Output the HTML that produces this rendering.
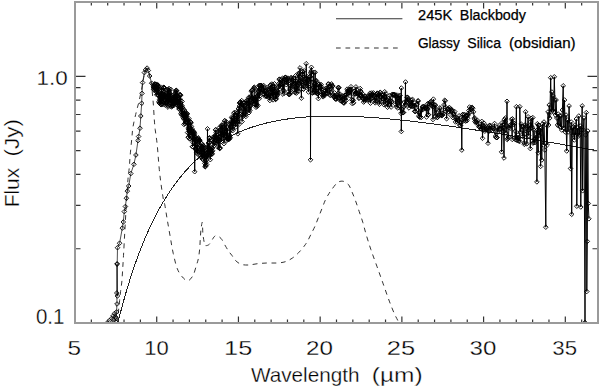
<!DOCTYPE html>
<html><head><meta charset="utf-8"><style>
html,body{margin:0;padding:0;background:#fff;}
svg{display:block;}
</style></head><body>
<svg width="600" height="388" viewBox="0 0 600 388">
<rect width="600" height="388" fill="#fff"/>
<g fill="none" stroke="#000" stroke-linejoin="miter">
<path d="M117.50,323.00 C117.67,321.00 118.15,314.75 118.50,311.00 C118.85,307.25 119.25,303.78 119.60,300.50 C119.95,297.22 120.23,294.38 120.60,291.30 C120.97,288.22 121.48,285.22 121.80,282.00 C122.12,278.78 122.28,275.30 122.50,272.00 C122.72,268.70 122.90,265.55 123.10,262.20 C123.30,258.85 123.43,256.72 123.70,251.90 C123.97,247.08 124.35,239.67 124.70,233.30 C125.05,226.93 125.42,220.08 125.80,213.70 C126.18,207.32 126.62,201.00 127.00,195.00 C127.38,189.00 127.72,182.30 128.10,177.70 C128.48,173.10 128.95,171.18 129.30,167.40 C129.65,163.62 129.78,159.80 130.20,155.00 C130.62,150.20 131.33,143.30 131.80,138.60 C132.27,133.90 132.27,131.18 133.00,126.80 C133.73,122.42 135.20,116.52 136.20,112.30 C137.20,108.08 138.07,105.55 139.00,101.50 C139.93,97.45 140.90,92.52 141.80,88.00 C142.70,83.48 143.53,77.77 144.40,74.40 C145.27,71.03 146.25,68.10 147.00,67.80 C147.75,67.50 148.30,70.57 148.90,72.60 C149.50,74.63 150.07,76.98 150.60,80.00 C151.13,83.02 151.63,86.52 152.10,90.70 C152.57,94.88 153.03,100.28 153.40,105.10 C153.77,109.92 154.00,115.53 154.30,119.60 C154.60,123.67 154.72,125.32 155.20,129.50 C155.68,133.68 156.52,138.03 157.20,144.70 C157.88,151.37 158.62,162.62 159.30,169.50 C159.98,176.38 160.62,181.02 161.30,186.00 C161.98,190.98 162.82,196.27 163.40,199.40 C163.98,202.53 164.17,201.47 164.80,204.80 C165.43,208.13 166.30,214.10 167.20,219.40 C168.10,224.70 169.18,230.88 170.20,236.60 C171.22,242.32 171.97,248.00 173.30,253.70 C174.63,259.40 175.95,266.32 178.20,270.80 C180.45,275.28 184.35,279.78 186.80,280.60 C189.25,281.42 191.28,278.30 192.90,275.70 C194.52,273.10 195.58,267.88 196.50,265.00 C197.42,262.12 197.87,261.12 198.40,258.40 C198.93,255.68 199.38,252.03 199.70,248.70 C200.02,245.37 200.08,241.62 200.30,238.40 C200.52,235.18 200.67,232.08 201.00,229.40 C201.33,226.72 201.98,221.55 202.30,222.30 C202.62,223.05 202.58,230.57 202.90,233.90 C203.22,237.23 203.82,240.37 204.20,242.30 C204.58,244.23 204.33,245.18 205.20,245.50 C206.07,245.82 207.95,245.60 209.40,244.20 C210.85,242.80 212.72,238.50 213.90,237.10 C215.08,235.70 215.32,235.58 216.50,235.80 C217.68,236.02 219.50,236.68 221.00,238.40 C222.50,240.12 224.22,243.95 225.50,246.10 C226.78,248.25 227.62,249.73 228.70,251.30 C229.78,252.87 230.95,254.05 232.00,255.50 C233.05,256.95 233.53,258.55 235.00,260.00 C236.47,261.45 238.58,263.37 240.80,264.20 C243.02,265.03 245.52,265.08 248.30,265.00 C251.08,264.92 254.43,264.03 257.50,263.70 C260.57,263.37 263.50,263.12 266.70,263.00 C269.90,262.88 273.65,263.20 276.70,263.00 C279.75,262.80 282.42,262.60 285.00,261.80 C287.58,261.00 289.95,259.70 292.20,258.20 C294.45,256.70 296.53,254.77 298.50,252.80 C300.47,250.83 302.48,248.37 304.00,246.40 C305.52,244.43 306.40,243.10 307.60,241.00 C308.80,238.90 310.00,236.20 311.20,233.80 C312.40,231.40 313.60,229.30 314.80,226.60 C316.00,223.90 317.20,220.62 318.40,217.60 C319.60,214.58 320.80,211.52 322.00,208.50 C323.20,205.48 324.43,202.00 325.60,199.50 C326.77,197.00 327.92,195.25 329.00,193.50 C330.08,191.75 330.68,190.82 332.10,189.00 C333.52,187.18 335.70,183.90 337.50,182.60 C339.30,181.30 341.10,180.90 342.90,181.20 C344.70,181.50 346.80,182.65 348.30,184.40 C349.80,186.15 350.70,188.98 351.90,191.70 C353.10,194.42 354.28,197.40 355.50,200.70 C356.72,204.00 357.98,207.90 359.20,211.50 C360.42,215.10 361.67,218.55 362.80,222.30 C363.93,226.05 364.65,229.45 366.00,234.00 C367.35,238.55 369.05,244.13 370.90,249.60 C372.75,255.07 375.05,261.08 377.10,266.80 C379.15,272.52 381.17,278.18 383.20,283.90 C385.23,289.62 387.47,296.20 389.30,301.10 C391.13,306.00 392.77,310.03 394.20,313.30 C395.63,316.57 397.13,319.08 397.90,320.70 C398.67,322.32 398.65,322.62 398.80,323.00" stroke="#333" stroke-width="1.0" stroke-dasharray="4.8 4.6"/>
<path d="M117.91,322.67 L118.17,321.61 L118.43,320.56 L118.69,319.52 L118.95,318.48 L119.22,317.45 L119.48,316.42 L119.74,315.40 L120.00,314.38 L120.26,313.37 L120.52,312.37 L120.79,311.37 L121.05,310.38 L121.31,309.39 L121.57,308.41 L121.83,307.43 L122.09,306.46 L122.36,305.49 L122.62,304.53 L122.88,303.57 L123.14,302.62 L123.40,301.67 L123.66,300.73 L123.92,299.80 L124.19,298.87 L124.45,297.94 L124.71,297.02 L124.97,296.10 L125.23,295.19 L125.49,294.28 L125.76,293.38 L126.02,292.49 L126.28,291.59 L126.54,290.71 L126.80,289.82 L127.06,288.94 L127.33,288.07 L127.59,287.20 L127.85,286.34 L128.11,285.48 L128.37,284.62 L128.63,283.77 L128.90,282.93 L129.16,282.08 L129.42,281.25 L129.68,280.41 L129.94,279.59 L130.20,278.76 L130.47,277.94 L130.73,277.13 L130.99,276.31 L131.25,275.51 L131.51,274.70 L131.77,273.90 L132.04,273.11 L132.30,272.32 L132.56,271.53 L132.82,270.75 L133.08,269.97 L133.34,269.20 L133.61,268.43 L133.87,267.66 L134.13,266.90 L134.39,266.14 L134.65,265.38 L134.91,264.63 L135.18,263.89 L135.44,263.14 L135.70,262.40 L135.96,261.67 L136.22,260.94 L136.48,260.21 L136.74,259.48 L137.01,258.76 L137.27,258.04 L137.53,257.33 L137.79,256.62 L138.05,255.91 L138.31,255.21 L138.58,254.51 L138.84,253.82 L139.10,253.13 L139.36,252.44 L139.62,251.75 L139.88,251.07 L140.15,250.39 L140.41,249.72 L140.67,249.05 L140.93,248.38 L141.19,247.71 L141.45,247.05 L141.72,246.39 L141.98,245.74 L142.24,245.09 L142.50,244.44 L142.76,243.79 L143.02,243.15 L143.29,242.51 L143.55,241.88 L143.81,241.24 L144.07,240.62 L144.33,239.99 L144.59,239.37 L144.86,238.75 L145.12,238.13 L145.38,237.52 L145.64,236.91 L145.90,236.30 L146.16,235.69 L146.43,235.09 L146.69,234.49 L146.95,233.90 L147.21,233.30 L147.47,232.71 L147.73,232.13 L147.99,231.54 L148.26,230.96 L148.52,230.38 L148.78,229.81 L149.04,229.23 L149.30,228.66 L149.56,228.10 L149.83,227.53 L150.09,226.97 L150.35,226.41 L150.61,225.86 L150.87,225.30 L151.13,224.75 L151.40,224.20 L151.66,223.66 L151.92,223.12 L152.18,222.58 L152.44,222.04 L152.70,221.50 L152.97,220.97 L153.23,220.44 L153.49,219.91 L153.75,219.39 L154.01,218.87 L154.27,218.35 L154.54,217.83 L154.80,217.32 L155.06,216.80 L155.32,216.29 L155.58,215.79 L155.84,215.28 L156.11,214.78 L156.37,214.28 L156.63,213.78 L156.89,213.29 L157.15,212.79 L157.41,212.30 L157.68,211.82 L157.94,211.33 L158.20,210.85 L158.46,210.36 L158.72,209.89 L158.98,209.41 L159.25,208.94 L159.51,208.46 L159.77,207.99 L160.03,207.53 L160.29,207.06 L160.55,206.60 L160.81,206.14 L161.08,205.68 L161.34,205.22 L161.60,204.77 L161.86,204.32 L162.12,203.87 L162.38,203.42 L162.65,202.97 L162.91,202.53 L163.17,202.09 L163.43,201.65 L163.69,201.21 L163.95,200.77 L164.22,200.34 L164.48,199.91 L164.74,199.48 L165.00,199.05 L165.26,198.63 L165.52,198.21 L165.79,197.79 L166.05,197.37 L166.31,196.95 L166.57,196.53 L166.83,196.12 L167.09,195.71 L167.36,195.30 L167.62,194.89 L167.88,194.49 L168.14,194.08 L168.40,193.68 L168.66,193.28 L168.93,192.88 L169.19,192.49 L169.45,192.09 L169.71,191.70 L169.97,191.31 L170.23,190.92 L170.50,190.53 L170.76,190.15 L171.02,189.77 L171.28,189.39 L171.54,189.01 L171.80,188.63 L172.07,188.25 L172.33,187.88 L172.59,187.50 L172.85,187.13 L173.11,186.76 L173.37,186.40 L173.63,186.03 L173.90,185.67 L174.16,185.30 L174.42,184.94 L174.68,184.58 L174.94,184.23 L175.20,183.87 L175.47,183.52 L175.73,183.17 L175.99,182.81 L176.25,182.47 L176.51,182.12 L176.77,181.77 L177.04,181.43 L177.30,181.09 L177.56,180.74 L177.82,180.40 L178.08,180.07 L178.34,179.73 L178.61,179.40 L178.87,179.06 L179.13,178.73 L179.39,178.40 L179.65,178.07 L179.91,177.74 L180.18,177.42 L180.44,177.09 L180.70,176.77 L180.96,176.45 L181.22,176.13 L181.48,175.81 L181.75,175.50 L182.01,175.18 L182.27,174.87 L182.53,174.56 L182.79,174.24 L183.05,173.94 L183.32,173.63 L183.58,173.32 L183.84,173.02 L184.10,172.71 L184.36,172.41 L184.62,172.11 L184.88,171.81 L185.15,171.51 L185.41,171.21 L185.67,170.92 L185.93,170.62 L186.19,170.33 L186.45,170.04 L186.72,169.75 L186.98,169.46 L187.24,169.17 L187.50,168.89 L187.76,168.60 L188.02,168.32 L188.29,168.04 L188.55,167.76 L188.81,167.48 L189.07,167.20 L189.33,166.92 L189.59,166.65 L189.86,166.37 L190.12,166.10 L190.38,165.83 L190.64,165.56 L190.90,165.29 L191.16,165.02 L191.43,164.75 L191.69,164.49 L191.95,164.22 L192.21,163.96 L192.47,163.70 L192.73,163.44 L193.00,163.18 L193.26,162.92 L193.52,162.66 L193.78,162.40 L194.04,162.15 L194.30,161.90 L194.57,161.64 L194.83,161.39 L195.09,161.14 L195.35,160.89 L195.61,160.64 L195.87,160.40 L196.14,160.15 L196.40,159.91 L196.66,159.66 L196.92,159.42 L197.18,159.18 L197.44,158.94 L197.70,158.70 L197.97,158.46 L198.23,158.23 L198.49,157.99 L198.75,157.76 L199.01,157.52 L199.27,157.29 L199.54,157.06 L199.80,156.83 L200.06,156.60 L200.32,156.37 L200.58,156.15 L200.84,155.92 L201.11,155.69 L201.37,155.47 L201.63,155.25 L201.89,155.03 L202.15,154.80 L202.41,154.58 L202.68,154.37 L202.94,154.15 L203.20,153.93 L203.46,153.72 L203.72,153.50 L203.98,153.29 L204.25,153.07 L204.51,152.86 L204.77,152.65 L205.03,152.44 L205.29,152.23 L205.55,152.02 L205.82,151.82 L206.08,151.61 L206.34,151.41 L206.60,151.20 L206.86,151.00 L207.12,150.80 L207.39,150.60 L207.65,150.40 L207.91,150.20 L208.17,150.00 L208.43,149.80 L208.69,149.60 L208.95,149.41 L209.22,149.21 L209.48,149.02 L209.74,148.83 L210.00,148.63 L210.26,148.44 L210.52,148.25 L210.79,148.06 L211.05,147.87 L211.31,147.69 L211.57,147.50 L211.83,147.31 L212.09,147.13 L212.36,146.94 L212.62,146.76 L212.88,146.58 L213.14,146.40 L213.40,146.21 L213.66,146.03 L213.93,145.86 L214.19,145.68 L214.45,145.50 L214.71,145.32 L214.97,145.15 L215.23,144.97 L215.50,144.80 L215.76,144.62 L216.02,144.45 L216.28,144.28 L216.54,144.11 L216.80,143.94 L217.07,143.77 L217.33,143.60 L217.59,143.43 L217.85,143.27 L218.11,143.10 L218.37,142.94 L218.64,142.77 L218.90,142.61 L219.16,142.44 L219.42,142.28 L219.68,142.12 L219.94,141.96 L220.21,141.80 L220.47,141.64 L220.73,141.48 L220.99,141.32 L221.25,141.17 L221.51,141.01 L221.77,140.86 L222.04,140.70 L222.30,140.55 L222.56,140.39 L222.82,140.24 L223.08,140.09 L223.34,139.94 L223.61,139.79 L223.87,139.64 L224.13,139.49 L224.39,139.34 L224.65,139.19 L224.91,139.05 L225.18,138.90 L225.44,138.75 L225.70,138.61 L225.96,138.47 L226.22,138.32 L226.48,138.18 L226.75,138.04 L227.01,137.90 L227.27,137.76 L227.53,137.62 L227.79,137.48 L228.05,137.34 L228.32,137.20 L228.58,137.06 L228.84,136.93 L229.10,136.79 L229.36,136.66 L229.62,136.52 L229.89,136.39 L230.15,136.25 L230.41,136.12 L230.67,135.99 L230.93,135.86 L231.19,135.73 L231.46,135.60 L231.72,135.47 L231.98,135.34 L232.24,135.21 L232.50,135.08 L232.76,134.96 L233.03,134.83 L233.29,134.70 L233.55,134.58 L233.81,134.45 L234.07,134.33 L234.33,134.21 L234.59,134.08 L234.86,133.96 L235.12,133.84 L235.38,133.72 L235.64,133.60 L235.90,133.48 L236.16,133.36 L236.43,133.24 L236.69,133.12 L236.95,133.01 L237.21,132.89 L237.47,132.77 L237.73,132.66 L238.00,132.54 L238.26,132.43 L238.52,132.32 L238.78,132.20 L239.04,132.09 L239.30,131.98 L239.57,131.87 L239.83,131.75 L240.09,131.64 L240.35,131.53 L240.61,131.42 L240.87,131.32 L241.14,131.21 L241.40,131.10 L241.66,130.99 L241.92,130.89 L242.18,130.78 L242.44,130.67 L242.71,130.57 L242.97,130.47 L243.23,130.36 L243.49,130.26 L243.75,130.16 L244.01,130.05 L244.28,129.95 L244.54,129.85 L244.80,129.75 L245.06,129.65 L245.32,129.55 L245.58,129.45 L245.84,129.35 L246.11,129.25 L246.37,129.16 L246.63,129.06 L246.89,128.96 L247.15,128.86 L247.41,128.77 L247.68,128.67 L247.94,128.58 L248.20,128.49 L248.46,128.39 L248.72,128.30 L248.98,128.21 L249.25,128.11 L249.51,128.02 L249.77,127.93 L250.03,127.84 L250.29,127.75 L250.55,127.66 L250.82,127.57 L251.08,127.48 L251.34,127.39 L251.60,127.30 L251.86,127.22 L252.12,127.13 L252.39,127.04 L252.65,126.96 L252.91,126.87 L253.17,126.79 L253.43,126.70 L253.69,126.62 L253.96,126.53 L254.22,126.45 L254.48,126.37 L254.74,126.29 L255.00,126.20 L255.26,126.12 L255.53,126.04 L255.79,125.96 L256.05,125.88 L256.31,125.80 L256.57,125.72 L256.83,125.64 L257.10,125.56 L257.36,125.49 L257.62,125.41 L257.88,125.33 L258.14,125.25 L258.40,125.18 L258.66,125.10 L258.93,125.03 L259.19,124.95 L259.45,124.88 L259.71,124.80 L259.97,124.73 L260.23,124.66 L260.50,124.58 L260.76,124.51 L261.02,124.44 L261.28,124.37 L261.54,124.29 L261.80,124.22 L262.07,124.15 L262.33,124.08 L262.59,124.01 L262.85,123.94 L263.11,123.88 L263.37,123.81 L263.64,123.74 L263.90,123.67 L264.16,123.60 L264.42,123.54 L264.68,123.47 L264.94,123.40 L265.21,123.34 L265.47,123.27 L265.73,123.21 L265.99,123.14 L266.25,123.08 L266.51,123.01 L266.78,122.95 L267.04,122.89 L267.30,122.83 L267.56,122.76 L267.82,122.70 L268.08,122.64 L268.35,122.58 L268.61,122.52 L268.87,122.46 L269.13,122.40 L269.39,122.34 L269.65,122.28 L269.91,122.22 L270.18,122.16 L270.44,122.10 L270.70,122.04 L270.96,121.99 L271.22,121.93 L271.48,121.87 L271.75,121.82 L272.01,121.76 L272.27,121.70 L272.53,121.65 L272.79,121.59 L273.05,121.54 L273.32,121.48 L273.58,121.43 L273.84,121.38 L274.10,121.32 L274.36,121.27 L274.62,121.22 L274.89,121.16 L275.15,121.11 L275.41,121.06 L275.67,121.01 L275.93,120.96 L276.19,120.91 L276.46,120.86 L276.72,120.81 L276.98,120.76 L277.24,120.71 L277.50,120.66 L277.76,120.61 L278.03,120.56 L278.29,120.51 L278.55,120.46 L278.81,120.42 L279.07,120.37 L279.33,120.32 L279.60,120.28 L279.86,120.23 L280.12,120.18 L280.38,120.14 L280.64,120.09 L280.90,120.05 L281.17,120.00 L281.43,119.96 L281.69,119.91 L281.95,119.87 L282.21,119.83 L282.47,119.78 L282.73,119.74 L283.00,119.70 L283.26,119.66 L283.52,119.62 L283.78,119.57 L284.04,119.53 L284.30,119.49 L284.57,119.45 L284.83,119.41 L285.09,119.37 L285.35,119.33 L285.61,119.29 L285.87,119.25 L286.14,119.21 L286.40,119.17 L286.66,119.13 L286.92,119.10 L287.18,119.06 L287.44,119.02 L287.71,118.98 L287.97,118.95 L288.23,118.91 L288.49,118.87 L288.75,118.84 L289.01,118.80 L289.28,118.77 L289.54,118.73 L289.80,118.70 L290.06,118.66 L290.32,118.63 L290.58,118.59 L290.85,118.56 L291.11,118.52 L291.37,118.49 L291.63,118.46 L291.89,118.43 L292.15,118.39 L292.42,118.36 L292.68,118.33 L292.94,118.30 L293.20,118.26 L293.46,118.23 L293.72,118.20 L293.98,118.17 L294.25,118.14 L294.51,118.11 L294.77,118.08 L295.03,118.05 L295.29,118.02 L295.55,117.99 L295.82,117.96 L296.08,117.94 L296.34,117.91 L296.60,117.88 L296.86,117.85 L297.12,117.82 L297.39,117.80 L297.65,117.77 L297.91,117.74 L298.17,117.71 L298.43,117.69 L298.69,117.66 L298.96,117.64 L299.22,117.61 L299.48,117.58 L299.74,117.56 L300.00,117.53 L300.26,117.51 L300.53,117.48 L300.79,117.46 L301.05,117.44 L301.31,117.41 L301.57,117.39 L301.83,117.37 L302.10,117.34 L302.36,117.32 L302.62,117.30 L302.88,117.27 L303.14,117.25 L303.40,117.23 L303.67,117.21 L303.93,117.19 L304.19,117.17 L304.45,117.14 L304.71,117.12 L304.97,117.10 L305.24,117.08 L305.50,117.06 L305.76,117.04 L306.02,117.02 L306.28,117.00 L306.54,116.98 L306.80,116.97 L307.07,116.95 L307.33,116.93 L307.59,116.91 L307.85,116.89 L308.11,116.87 L308.37,116.86 L308.64,116.84 L308.90,116.82 L309.16,116.80 L309.42,116.79 L309.68,116.77 L309.94,116.75 L310.21,116.74 L310.47,116.72 L310.73,116.71 L310.99,116.69 L311.25,116.67 L311.51,116.66 L311.78,116.64 L312.04,116.63 L312.30,116.62 L312.56,116.60 L312.82,116.59 L313.08,116.57 L313.35,116.56 L313.61,116.55 L313.87,116.53 L314.13,116.52 L314.39,116.51 L314.65,116.49 L314.92,116.48 L315.18,116.47 L315.44,116.46 L315.70,116.44 L315.96,116.43 L316.22,116.42 L316.49,116.41 L316.75,116.40 L317.01,116.39 L317.27,116.38 L317.53,116.37 L317.79,116.36 L318.06,116.35 L318.32,116.33 L318.58,116.33 L318.84,116.32 L319.10,116.31 L319.36,116.30 L319.62,116.29 L319.89,116.28 L320.15,116.27 L320.41,116.26 L320.67,116.25 L320.93,116.24 L321.19,116.24 L321.46,116.23 L321.72,116.22 L321.98,116.21 L322.24,116.21 L322.50,116.20 L322.76,116.19 L323.03,116.19 L323.29,116.18 L323.55,116.17 L323.81,116.17 L324.07,116.16 L324.33,116.15 L324.60,116.15 L324.86,116.14 L325.12,116.14 L325.38,116.13 L325.64,116.13 L325.90,116.12 L326.17,116.12 L326.43,116.11 L326.69,116.11 L326.95,116.11 L327.21,116.10 L327.47,116.10 L327.74,116.09 L328.00,116.09 L328.26,116.09 L328.52,116.08 L328.78,116.08 L329.04,116.08 L329.31,116.08 L329.57,116.07 L329.83,116.07 L330.09,116.07 L330.35,116.07 L330.61,116.07 L330.87,116.06 L331.14,116.06 L331.40,116.06 L331.66,116.06 L331.92,116.06 L332.18,116.06 L332.44,116.06 L332.71,116.06 L332.97,116.06 L333.23,116.06 L333.49,116.06 L333.75,116.06 L334.01,116.06 L334.28,116.06 L334.54,116.06 L334.80,116.06 L335.06,116.06 L335.32,116.06 L335.58,116.06 L335.85,116.06 L336.11,116.06 L336.37,116.07 L336.63,116.07 L336.89,116.07 L337.15,116.07 L337.42,116.07 L337.68,116.08 L337.94,116.08 L338.20,116.08 L338.46,116.08 L338.72,116.09 L338.99,116.09 L339.25,116.09 L339.51,116.10 L339.77,116.10 L340.03,116.10 L340.29,116.11 L340.56,116.11 L340.82,116.12 L341.08,116.12 L341.34,116.12 L341.60,116.13 L341.86,116.13 L342.13,116.14 L342.39,116.14 L342.65,116.15 L342.91,116.15 L343.17,116.16 L343.43,116.16 L343.69,116.17 L343.96,116.18 L344.22,116.18 L344.48,116.19 L344.74,116.19 L345.00,116.20 L345.26,116.21 L345.53,116.21 L345.79,116.22 L346.05,116.23 L346.31,116.23 L346.57,116.24 L346.83,116.25 L347.10,116.26 L347.36,116.26 L347.62,116.27 L347.88,116.28 L348.14,116.29 L348.40,116.30 L348.67,116.30 L348.93,116.31 L349.19,116.32 L349.45,116.33 L349.71,116.34 L349.97,116.35 L350.24,116.36 L350.50,116.36 L350.76,116.37 L351.02,116.38 L351.28,116.39 L351.54,116.40 L351.81,116.41 L352.07,116.42 L352.33,116.43 L352.59,116.44 L352.85,116.45 L353.11,116.46 L353.38,116.47 L353.64,116.48 L353.90,116.49 L354.16,116.51 L354.42,116.52 L354.68,116.53 L354.94,116.54 L355.21,116.55 L355.47,116.56 L355.73,116.57 L355.99,116.58 L356.25,116.60 L356.51,116.61 L356.78,116.62 L357.04,116.63 L357.30,116.64 L357.56,116.66 L357.82,116.67 L358.08,116.68 L358.35,116.69 L358.61,116.71 L358.87,116.72 L359.13,116.73 L359.39,116.75 L359.65,116.76 L359.92,116.77 L360.18,116.79 L360.44,116.80 L360.70,116.81 L360.96,116.83 L361.22,116.84 L361.49,116.86 L361.75,116.87 L362.01,116.88 L362.27,116.90 L362.53,116.91 L362.79,116.93 L363.06,116.94 L363.32,116.96 L363.58,116.97 L363.84,116.99 L364.10,117.00 L364.36,117.02 L364.63,117.03 L364.89,117.05 L365.15,117.07 L365.41,117.08 L365.67,117.10 L365.93,117.11 L366.20,117.13 L366.46,117.14 L366.72,117.16 L366.98,117.18 L367.24,117.19 L367.50,117.21 L367.76,117.23 L368.03,117.24 L368.29,117.26 L368.55,117.28 L368.81,117.29 L369.07,117.31 L369.33,117.33 L369.60,117.35 L369.86,117.36 L370.12,117.38 L370.38,117.40 L370.64,117.42 L370.90,117.43 L371.17,117.45 L371.43,117.47 L371.69,117.49 L371.95,117.51 L372.21,117.53 L372.47,117.54 L372.74,117.56 L373.00,117.58 L373.26,117.60 L373.52,117.62 L373.78,117.64 L374.04,117.66 L374.31,117.68 L374.57,117.69 L374.83,117.71 L375.09,117.73 L375.35,117.75 L375.61,117.77 L375.88,117.79 L376.14,117.81 L376.40,117.83 L376.66,117.85 L376.92,117.87 L377.18,117.89 L377.45,117.91 L377.71,117.93 L377.97,117.95 L378.23,117.97 L378.49,117.99 L378.75,118.01 L379.02,118.04 L379.28,118.06 L379.54,118.08 L379.80,118.10 L380.06,118.12 L380.32,118.14 L380.58,118.16 L380.85,118.18 L381.11,118.20 L381.37,118.23 L381.63,118.25 L381.89,118.27 L382.15,118.29 L382.42,118.31 L382.68,118.34 L382.94,118.36 L383.20,118.38 L383.46,118.40 L383.72,118.42 L383.99,118.45 L384.25,118.47 L384.51,118.49 L384.77,118.51 L385.03,118.54 L385.29,118.56 L385.56,118.58 L385.82,118.61 L386.08,118.63 L386.34,118.65 L386.60,118.68 L386.86,118.70 L387.13,118.72 L387.39,118.75 L387.65,118.77 L387.91,118.79 L388.17,118.82 L388.43,118.84 L388.70,118.86 L388.96,118.89 L389.22,118.91 L389.48,118.94 L389.74,118.96 L390.00,118.98 L390.27,119.01 L390.53,119.03 L390.79,119.06 L391.05,119.08 L391.31,119.11 L391.57,119.13 L391.83,119.16 L392.10,119.18 L392.36,119.21 L392.62,119.23 L392.88,119.26 L393.14,119.28 L393.40,119.31 L393.67,119.33 L393.93,119.36 L394.19,119.38 L394.45,119.41 L394.71,119.44 L394.97,119.46 L395.24,119.49 L395.50,119.51 L395.76,119.54 L396.02,119.56 L396.28,119.59 L396.54,119.62 L396.81,119.64 L397.07,119.67 L397.33,119.70 L397.59,119.72 L397.85,119.75 L398.11,119.78 L398.38,119.80 L398.64,119.83 L398.90,119.86 L399.16,119.88 L399.42,119.91 L399.68,119.94 L399.95,119.96 L400.21,119.99 L400.47,120.02 L400.73,120.05 L400.99,120.07 L401.25,120.10 L401.52,120.13 L401.78,120.16 L402.04,120.18 L402.30,120.21 L402.56,120.24 L402.82,120.27 L403.09,120.29 L403.35,120.32 L403.61,120.35 L403.87,120.38 L404.13,120.41 L404.39,120.44 L404.65,120.46 L404.92,120.49 L405.18,120.52 L405.44,120.55 L405.70,120.58 L405.96,120.61 L406.22,120.63 L406.49,120.66 L406.75,120.69 L407.01,120.72 L407.27,120.75 L407.53,120.78 L407.79,120.81 L408.06,120.84 L408.32,120.87 L408.58,120.90 L408.84,120.93 L409.10,120.96 L409.36,120.98 L409.63,121.01 L409.89,121.04 L410.15,121.07 L410.41,121.10 L410.67,121.13 L410.93,121.16 L411.20,121.19 L411.46,121.22 L411.72,121.25 L411.98,121.28 L412.24,121.31 L412.50,121.34 L412.77,121.37 L413.03,121.40 L413.29,121.43 L413.55,121.46 L413.81,121.50 L414.07,121.53 L414.34,121.56 L414.60,121.59 L414.86,121.62 L415.12,121.65 L415.38,121.68 L415.64,121.71 L415.90,121.74 L416.17,121.77 L416.43,121.80 L416.69,121.83 L416.95,121.87 L417.21,121.90 L417.47,121.93 L417.74,121.96 L418.00,121.99 L418.26,122.02 L418.52,122.05 L418.78,122.09 L419.04,122.12 L419.31,122.15 L419.57,122.18 L419.83,122.21 L420.09,122.24 L420.35,122.28 L420.61,122.31 L420.88,122.34 L421.14,122.37 L421.40,122.41 L421.66,122.44 L421.92,122.47 L422.18,122.50 L422.45,122.53 L422.71,122.57 L422.97,122.60 L423.23,122.63 L423.49,122.66 L423.75,122.70 L424.02,122.73 L424.28,122.76 L424.54,122.80 L424.80,122.83 L425.06,122.86 L425.32,122.89 L425.59,122.93 L425.85,122.96 L426.11,122.99 L426.37,123.03 L426.63,123.06 L426.89,123.09 L427.16,123.13 L427.42,123.16 L427.68,123.19 L427.94,123.23 L428.20,123.26 L428.46,123.29 L428.72,123.33 L428.99,123.36 L429.25,123.39 L429.51,123.43 L429.77,123.46 L430.03,123.50 L430.29,123.53 L430.56,123.56 L430.82,123.60 L431.08,123.63 L431.34,123.67 L431.60,123.70 L431.86,123.73 L432.13,123.77 L432.39,123.80 L432.65,123.84 L432.91,123.87 L433.17,123.91 L433.43,123.94 L433.70,123.97 L433.96,124.01 L434.22,124.04 L434.48,124.08 L434.74,124.11 L435.00,124.15 L435.27,124.18 L435.53,124.22 L435.79,124.25 L436.05,124.29 L436.31,124.32 L436.57,124.36 L436.84,124.39 L437.10,124.43 L437.36,124.46 L437.62,124.50 L437.88,124.53 L438.14,124.57 L438.41,124.60 L438.67,124.64 L438.93,124.67 L439.19,124.71 L439.45,124.75 L439.71,124.78 L439.97,124.82 L440.24,124.85 L440.50,124.89 L440.76,124.92 L441.02,124.96 L441.28,125.00 L441.54,125.03 L441.81,125.07 L442.07,125.10 L442.33,125.14 L442.59,125.18 L442.85,125.21 L443.11,125.25 L443.38,125.28 L443.64,125.32 L443.90,125.36 L444.16,125.39 L444.42,125.43 L444.68,125.46 L444.95,125.50 L445.21,125.54 L445.47,125.57 L445.73,125.61 L445.99,125.65 L446.25,125.68 L446.52,125.72 L446.78,125.76 L447.04,125.79 L447.30,125.83 L447.56,125.87 L447.82,125.90 L448.09,125.94 L448.35,125.98 L448.61,126.01 L448.87,126.05 L449.13,126.09 L449.39,126.13 L449.66,126.16 L449.92,126.20 L450.18,126.24 L450.44,126.27 L450.70,126.31 L450.96,126.35 L451.23,126.39 L451.49,126.42 L451.75,126.46 L452.01,126.50 L452.27,126.54 L452.53,126.57 L452.79,126.61 L453.06,126.65 L453.32,126.69 L453.58,126.72 L453.84,126.76 L454.10,126.80 L454.36,126.84 L454.63,126.88 L454.89,126.91 L455.15,126.95 L455.41,126.99 L455.67,127.03 L455.93,127.06 L456.20,127.10 L456.46,127.14 L456.72,127.18 L456.98,127.22 L457.24,127.26 L457.50,127.29 L457.77,127.33 L458.03,127.37 L458.29,127.41 L458.55,127.45 L458.81,127.49 L459.07,127.52 L459.34,127.56 L459.60,127.60 L459.86,127.64 L460.12,127.68 L460.38,127.72 L460.64,127.75 L460.91,127.79 L461.17,127.83 L461.43,127.87 L461.69,127.91 L461.95,127.95 L462.21,127.99 L462.48,128.03 L462.74,128.06 L463.00,128.10 L463.26,128.14 L463.52,128.18 L463.78,128.22 L464.05,128.26 L464.31,128.30 L464.57,128.34 L464.83,128.38 L465.09,128.42 L465.35,128.46 L465.61,128.49 L465.88,128.53 L466.14,128.57 L466.40,128.61 L466.66,128.65 L466.92,128.69 L467.18,128.73 L467.45,128.77 L467.71,128.81 L467.97,128.85 L468.23,128.89 L468.49,128.93 L468.75,128.97 L469.02,129.01 L469.28,129.05 L469.54,129.09 L469.80,129.13 L470.06,129.17 L470.32,129.21 L470.59,129.25 L470.85,129.29 L471.11,129.33 L471.37,129.37 L471.63,129.41 L471.89,129.45 L472.16,129.49 L472.42,129.53 L472.68,129.57 L472.94,129.61 L473.20,129.65 L473.46,129.69 L473.73,129.73 L473.99,129.77 L474.25,129.81 L474.51,129.85 L474.77,129.89 L475.03,129.93 L475.30,129.97 L475.56,130.01 L475.82,130.05 L476.08,130.09 L476.34,130.13 L476.60,130.17 L476.86,130.21 L477.13,130.25 L477.39,130.29 L477.65,130.33 L477.91,130.37 L478.17,130.41 L478.43,130.45 L478.70,130.50 L478.96,130.54 L479.22,130.58 L479.48,130.62 L479.74,130.66 L480.00,130.70 L480.27,130.74 L480.53,130.78 L480.79,130.82 L481.05,130.86 L481.31,130.90 L481.57,130.94 L481.84,130.99 L482.10,131.03 L482.36,131.07 L482.62,131.11 L482.88,131.15 L483.14,131.19 L483.41,131.23 L483.67,131.27 L483.93,131.31 L484.19,131.36 L484.45,131.40 L484.71,131.44 L484.98,131.48 L485.24,131.52 L485.50,131.56 L485.76,131.60 L486.02,131.65 L486.28,131.69 L486.55,131.73 L486.81,131.77 L487.07,131.81 L487.33,131.85 L487.59,131.89 L487.85,131.94 L488.12,131.98 L488.38,132.02 L488.64,132.06 L488.90,132.10 L489.16,132.14 L489.42,132.19 L489.68,132.23 L489.95,132.27 L490.21,132.31 L490.47,132.35 L490.73,132.39 L490.99,132.44 L491.25,132.48 L491.52,132.52 L491.78,132.56 L492.04,132.60 L492.30,132.65 L492.56,132.69 L492.82,132.73 L493.09,132.77 L493.35,132.81 L493.61,132.86 L493.87,132.90 L494.13,132.94 L494.39,132.98 L494.66,133.03 L494.92,133.07 L495.18,133.11 L495.44,133.15 L495.70,133.19 L495.96,133.24 L496.23,133.28 L496.49,133.32 L496.75,133.36 L497.01,133.41 L497.27,133.45 L497.53,133.49 L497.80,133.53 L498.06,133.58 L498.32,133.62 L498.58,133.66 L498.84,133.70 L499.10,133.75 L499.37,133.79 L499.63,133.83 L499.89,133.87 L500.15,133.92 L500.41,133.96 L500.67,134.00 L500.93,134.04 L501.20,134.09 L501.46,134.13 L501.72,134.17 L501.98,134.21 L502.24,134.26 L502.50,134.30 L502.77,134.34 L503.03,134.39 L503.29,134.43 L503.55,134.47 L503.81,134.51 L504.07,134.56 L504.34,134.60 L504.60,134.64 L504.86,134.69 L505.12,134.73 L505.38,134.77 L505.64,134.82 L505.91,134.86 L506.17,134.90 L506.43,134.94 L506.69,134.99 L506.95,135.03 L507.21,135.07 L507.48,135.12 L507.74,135.16 L508.00,135.20 L508.26,135.25 L508.52,135.29 L508.78,135.33 L509.05,135.38 L509.31,135.42 L509.57,135.46 L509.83,135.51 L510.09,135.55 L510.35,135.59 L510.62,135.64 L510.88,135.68 L511.14,135.72 L511.40,135.77 L511.66,135.81 L511.92,135.85 L512.19,135.90 L512.45,135.94 L512.71,135.98 L512.97,136.03 L513.23,136.07 L513.49,136.11 L513.75,136.16 L514.02,136.20 L514.28,136.25 L514.54,136.29 L514.80,136.33 L515.06,136.38 L515.32,136.42 L515.59,136.46 L515.85,136.51 L516.11,136.55 L516.37,136.60 L516.63,136.64 L516.89,136.68 L517.16,136.73 L517.42,136.77 L517.68,136.81 L517.94,136.86 L518.20,136.90 L518.46,136.95 L518.73,136.99 L518.99,137.03 L519.25,137.08 L519.51,137.12 L519.77,137.17 L520.03,137.21 L520.30,137.25 L520.56,137.30 L520.82,137.34 L521.08,137.39 L521.34,137.43 L521.60,137.47 L521.87,137.52 L522.13,137.56 L522.39,137.61 L522.65,137.65 L522.91,137.69 L523.17,137.74 L523.44,137.78 L523.70,137.83 L523.96,137.87 L524.22,137.91 L524.48,137.96 L524.74,138.00 L525.01,138.05 L525.27,138.09 L525.53,138.14 L525.79,138.18 L526.05,138.22 L526.31,138.27 L526.57,138.31 L526.84,138.36 L527.10,138.40 L527.36,138.45 L527.62,138.49 L527.88,138.54 L528.14,138.58 L528.41,138.62 L528.67,138.67 L528.93,138.71 L529.19,138.76 L529.45,138.80 L529.71,138.85 L529.98,138.89 L530.24,138.94 L530.50,138.98 L530.76,139.02 L531.02,139.07 L531.28,139.11 L531.55,139.16 L531.81,139.20 L532.07,139.25 L532.33,139.29 L532.59,139.34 L532.85,139.38 L533.12,139.43 L533.38,139.47 L533.64,139.52 L533.90,139.56 L534.16,139.61 L534.42,139.65 L534.69,139.69 L534.95,139.74 L535.21,139.78 L535.47,139.83 L535.73,139.87 L535.99,139.92 L536.26,139.96 L536.52,140.01 L536.78,140.05 L537.04,140.10 L537.30,140.14 L537.56,140.19 L537.82,140.23 L538.09,140.28 L538.35,140.32 L538.61,140.37 L538.87,140.41 L539.13,140.46 L539.39,140.50 L539.66,140.55 L539.92,140.59 L540.18,140.64 L540.44,140.68 L540.70,140.73 L540.96,140.77 L541.23,140.82 L541.49,140.86 L541.75,140.91 L542.01,140.95 L542.27,141.00 L542.53,141.04 L542.80,141.09 L543.06,141.13 L543.32,141.18 L543.58,141.22 L543.84,141.27 L544.10,141.31 L544.37,141.36 L544.63,141.40 L544.89,141.45 L545.15,141.49 L545.41,141.54 L545.67,141.58 L545.94,141.63 L546.20,141.68 L546.46,141.72 L546.72,141.77 L546.98,141.81 L547.24,141.86 L547.51,141.90 L547.77,141.95 L548.03,141.99 L548.29,142.04 L548.55,142.08 L548.81,142.13 L549.08,142.17 L549.34,142.22 L549.60,142.26 L549.86,142.31 L550.12,142.36 L550.38,142.40 L550.64,142.45 L550.91,142.49 L551.17,142.54 L551.43,142.58 L551.69,142.63 L551.95,142.67 L552.21,142.72 L552.48,142.76 L552.74,142.81 L553.00,142.86 L553.26,142.90 L553.52,142.95 L553.78,142.99 L554.05,143.04 L554.31,143.08 L554.57,143.13 L554.83,143.17 L555.09,143.22 L555.35,143.27 L555.62,143.31 L555.88,143.36 L556.14,143.40 L556.40,143.45 L556.66,143.49 L556.92,143.54 L557.19,143.58 L557.45,143.63 L557.71,143.68 L557.97,143.72 L558.23,143.77 L558.49,143.81 L558.76,143.86 L559.02,143.90 L559.28,143.95 L559.54,144.00 L559.80,144.04 L560.06,144.09 L560.33,144.13 L560.59,144.18 L560.85,144.22 L561.11,144.27 L561.37,144.32 L561.63,144.36 L561.89,144.41 L562.16,144.45 L562.42,144.50 L562.68,144.55 L562.94,144.59 L563.20,144.64 L563.46,144.68 L563.73,144.73 L563.99,144.77 L564.25,144.82 L564.51,144.87 L564.77,144.91 L565.03,144.96 L565.30,145.00 L565.56,145.05 L565.82,145.10 L566.08,145.14 L566.34,145.19 L566.60,145.23 L566.87,145.28 L567.13,145.33 L567.39,145.37 L567.65,145.42 L567.91,145.46 L568.17,145.51 L568.44,145.56 L568.70,145.60 L568.96,145.65 L569.22,145.69 L569.48,145.74 L569.74,145.79 L570.01,145.83 L570.27,145.88 L570.53,145.92 L570.79,145.97 L571.05,146.02 L571.31,146.06 L571.58,146.11 L571.84,146.15 L572.10,146.20 L572.36,146.25 L572.62,146.29 L572.88,146.34 L573.15,146.38 L573.41,146.43 L573.67,146.48 L573.93,146.52 L574.19,146.57 L574.45,146.62 L574.71,146.66 L574.98,146.71 L575.24,146.75 L575.50,146.80 L575.76,146.85 L576.02,146.89 L576.28,146.94 L576.55,146.98 L576.81,147.03 L577.07,147.08 L577.33,147.12 L577.59,147.17 L577.85,147.22 L578.12,147.26 L578.38,147.31 L578.64,147.35 L578.90,147.40 L579.16,147.45 L579.42,147.49 L579.69,147.54 L579.95,147.59 L580.21,147.63 L580.47,147.68 L580.73,147.72 L580.99,147.77 L581.26,147.82 L581.52,147.86 L581.78,147.91 L582.04,147.96 L582.30,148.00 L582.56,148.05 L582.83,148.09 L583.09,148.14 L583.35,148.19 L583.61,148.23 L583.87,148.28 L584.13,148.33 L584.40,148.37 L584.66,148.42 L584.92,148.47 L585.18,148.51 L585.44,148.56 L585.70,148.60 L585.96,148.65 L586.23,148.70 L586.49,148.74 L586.75,148.79 L587.01,148.84 L587.27,148.88 L587.53,148.93 L587.80,148.98 L588.06,149.02 L588.32,149.07 L588.58,149.12 L588.84,149.16 L589.10,149.21 L589.37,149.25 L589.63,149.30 L589.89,149.35 L590.15,149.39 L590.41,149.44 L590.67,149.49 L590.94,149.53 L591.20,149.58 L591.46,149.63 L591.72,149.67 L591.98,149.72 L592.24,149.77 L592.51,149.81 L592.77,149.86 L593.03,149.91 L593.29,149.95 L593.55,150.00 L593.81,150.04 L594.08,150.09 L594.34,150.14 L594.60,150.18 L594.86,150.23 L595.12,150.28 L595.38,150.32 L595.65,150.37 L595.91,150.42 L596.17,150.46 L596.43,150.51 L596.69,150.56 L596.95,150.60 L597.22,150.65 L597.48,150.70 L597.74,150.74 L598.00,150.79" stroke="#222" stroke-width="1.0" shape-rendering="crispEdges"/>
<path d="M107.50,322.50 L109.50,320.50 L111.50,318.50 L113.00,316.00 L114.50,313.50 L115.50,317.00 L113.80,320.00 L115.20,321.50 L116.20,318.00 L116.50,312.00 L117.00,304.00 L116.80,293.00 L117.00,264.00 L117.40,296.00 L117.20,264.00 L117.50,247.70 L119.60,243.20 L122.30,228.10 L123.30,222.00 L124.30,211.60 L125.40,206.50 L126.40,198.20 L127.30,191.10 L128.70,186.00 L130.80,173.60 L133.90,164.30 L135.90,155.00 L138.00,140.60 L138.60,136.50 L140.00,128.20 L140.80,116.00 L141.70,103.30 L142.00,93.40 L142.60,82.60 L144.40,72.60 L145.50,70.00 L147.10,68.10 L148.30,70.50 L149.70,76.00 L151.60,83.20" stroke="#222" stroke-width="0.8"/>
<path d="M151.60,83.20 L153.50,86.67 L153.63,89.24 L153.79,88.04 L153.86,87.20 L154.06,87.37 L154.28,89.50 L154.42,90.56 L154.59,87.29 L154.69,84.18 L154.84,84.04 L155.02,84.11 L155.21,85.19 L155.37,86.72 L155.57,88.88 L155.72,88.07 L155.90,84.46 L156.11,84.54 L156.25,88.51 L156.47,90.92 L156.56,89.84 L156.67,94.70 L156.84,92.62 L156.96,88.19 L157.08,89.49 L157.25,84.92 L157.43,84.98 L157.64,94.49 L157.82,85.11 L157.92,94.49 L158.13,85.21 L158.29,87.28 L158.50,86.46 L158.66,88.96 L158.87,92.83 L159.09,101.44 L159.23,102.73 L159.33,97.41 L159.54,103.04 L159.62,99.62 L159.81,96.53 L159.94,103.44 L160.09,91.56 L160.32,92.02 L160.49,95.27 L160.58,97.00 L160.75,101.80 L160.85,104.35 L160.97,104.47 L161.20,104.60 L161.35,98.95 L161.51,92.72 L161.67,87.74 L161.85,97.33 L161.99,94.20 L162.18,95.27 L162.41,100.44 L162.57,97.88 L162.72,96.95 L162.89,104.53 L163.06,102.28 L163.15,95.50 L163.34,91.40 L163.47,91.04 L163.55,87.42 L163.64,87.48 L163.76,87.57 L163.91,87.68 L164.05,87.79 L164.18,87.88 L164.31,94.92 L164.44,96.05 L164.61,95.31 L164.81,94.76 L165.02,99.59 L165.14,101.04 L165.33,105.14 L165.42,99.92 L165.64,103.52 L165.79,103.25 L165.92,98.31 L166.11,102.65 L166.22,96.58 L166.32,93.41 L166.53,94.44 L166.75,97.59 L166.96,101.83 L167.15,102.00 L167.25,95.40 L167.38,97.57 L167.51,93.29 L167.66,89.96 L167.89,95.93 L168.00,107.10 L168.23,105.80 L168.47,89.74 L168.70,98.65 L168.82,98.04 L169.01,88.50 L169.18,90.07 L169.30,98.36 L169.39,94.14 L169.61,93.14 L169.70,102.45 L169.93,95.57 L170.16,102.69 L170.25,96.30 L170.45,99.23 L170.65,102.93 L170.82,89.38 L171.00,99.66 L171.14,98.73 L171.31,106.85 L171.52,102.49 L171.69,103.48 L171.91,105.69 L172.15,106.42 L172.37,105.75 L172.56,101.86 L172.79,104.07 L172.92,102.72 L173.09,95.42 L173.31,98.95 L173.39,100.86 L173.50,100.38 L173.60,105.70 L173.70,102.79 L173.87,98.85 L174.01,102.22 L174.21,96.24 L174.32,94.27 L174.46,99.92 L174.67,103.17 L174.82,103.42 L174.97,102.35 L175.16,101.30 L175.38,95.27 L175.58,92.11 L175.75,96.22 L175.96,90.60 L176.12,96.90 L176.25,90.41 L176.35,91.84 L176.51,90.51 L176.76,95.06 L176.91,102.64 L177.04,96.13 L177.21,102.80 L177.41,105.40 L177.65,105.05 L177.87,96.24 L178.05,101.89 L178.14,104.31 L178.25,102.61 L178.36,100.12 L178.46,102.11 L178.55,99.35 L178.79,106.54 L179.00,108.49 L179.23,109.19 L179.46,107.44 L179.55,106.08 L179.77,98.88 L179.88,100.46 L179.98,94.46 L180.12,94.84 L180.25,95.21 L180.37,95.56 L180.60,107.04 L180.76,103.03 L180.91,108.43 L181.07,113.44 L181.33,114.67 L181.50,112.13 L181.71,107.73 L181.93,105.55 L182.11,101.44 L182.32,107.86 L182.42,107.17 L182.65,115.17 L182.82,110.65 L183.04,113.55 L183.16,117.71 L183.36,114.69 L183.58,118.79 L183.84,115.11 L184.01,124.49 L184.25,117.58 L184.38,115.02 L184.48,110.04 L184.60,113.91 L184.76,111.12 L184.88,123.63 L185.15,113.94 L185.33,117.42 L185.57,122.22 L185.75,114.63 L185.98,121.39 L186.20,116.84 L186.47,114.96 L186.61,119.10 L186.83,113.88 L187.09,113.51 L187.22,114.03 L187.35,122.88 L187.57,132.57 L187.72,119.36 L187.97,119.78 L188.20,128.94 L188.31,137.10 L188.46,137.49 L188.62,127.32 L188.71,123.02 L188.87,118.52 L189.00,125.59 L189.21,133.40 L189.40,130.37 L189.52,128.84 L189.63,138.93 L189.90,138.51 L190.17,134.43 L190.33,135.07 L190.49,123.32 L190.71,122.06 L190.85,122.38 L191.09,132.61 L191.29,131.01 L191.41,126.40 L191.64,130.15 L191.86,128.67 L192.08,130.01 L192.30,138.34 L192.52,146.54 L192.64,146.78 L192.80,142.17 L193.04,134.01 L193.26,131.24 L193.44,132.79 L193.55,138.79 L193.79,139.37 L194.03,131.93 L194.19,134.69 L194.46,143.36 L194.57,137.73 L194.70,133.20 L194.70,171.70 L194.81,139.26 L194.98,137.24 L195.18,144.76 L195.43,136.92 L195.55,148.85 L195.70,149.09 L195.95,148.88 L196.19,148.76 L196.37,150.83 L196.62,152.79 L196.83,140.63 L196.96,139.46 L197.16,144.65 L197.38,146.93 L197.63,151.63 L197.73,154.14 L198.02,139.60 L198.20,137.89 L198.42,138.35 L198.72,140.85 L198.99,139.84 L199.19,139.87 L199.29,140.07 L199.54,140.58 L199.75,140.99 L199.94,145.94 L200.05,155.39 L200.25,150.07 L200.46,145.77 L200.76,151.29 L201.02,150.04 L201.25,156.99 L201.39,157.47 L201.51,143.52 L201.68,143.74 L201.96,146.86 L202.23,147.02 L202.46,159.06 L202.71,153.36 L202.88,159.26 L203.16,145.55 L203.36,149.34 L203.48,145.66 L203.59,152.88 L203.73,156.07 L203.93,153.66 L204.12,147.28 L204.36,148.52 L204.62,158.35 L204.81,163.37 L205.06,166.87 L205.24,161.18 L205.47,165.18 L205.62,166.29 L205.88,162.73 L206.02,156.31 L206.17,157.26 L206.31,153.37 L206.42,156.51 L206.54,159.75 L206.66,164.57 L206.77,154.14 L207.02,156.10 L207.14,149.54 L207.25,155.02 L207.50,128.80 L207.56,154.41 L207.76,156.44 L207.90,149.90 L208.03,145.99 L208.15,147.39 L208.42,143.06 L208.62,151.47 L208.78,148.56 L208.95,153.08 L209.12,142.56 L209.25,138.41 L209.48,138.03 L209.59,137.85 L209.73,142.74 L209.85,154.83 L210.15,155.40 L210.30,159.67 L210.57,153.67 L210.88,152.52 L211.05,149.42 L211.29,150.91 L211.46,147.91 L211.75,152.03 L211.93,153.83 L212.18,153.98 L212.45,148.20 L212.72,150.87 L213.03,140.43 L213.21,137.39 L213.49,141.98 L213.71,141.68 L213.97,145.80 L214.21,142.53 L214.43,135.78 L214.57,137.67 L214.79,137.59 L215.06,137.43 L215.22,136.07 L215.52,129.98 L215.82,129.68 L216.03,138.25 L216.21,132.39 L216.41,141.23 L216.73,143.32 L216.86,138.78 L216.99,137.58 L217.25,138.17 L217.39,140.53 L217.65,138.81 L217.81,138.12 L218.14,139.66 L218.34,147.51 L218.63,134.05 L218.86,128.06 L219.02,133.00 L219.31,137.07 L219.45,148.38 L219.61,148.27 L219.92,148.05 L220.09,147.91 L220.39,136.59 L220.67,129.64 L220.98,126.56 L221.20,137.78 L221.34,141.50 L221.64,130.77 L221.80,124.85 L222.08,126.73 L222.21,125.25 L222.34,135.39 L222.58,134.09 L222.84,126.63 L223.10,130.72 L223.44,137.82 L223.63,133.19 L223.80,134.22 L223.95,143.67 L224.27,134.32 L224.61,121.03 L224.85,120.65 L225.06,135.63 L225.40,128.92 L225.63,130.70 L225.98,123.52 L226.31,121.87 L226.47,140.73 L226.61,135.41 L226.85,127.37 L227.11,139.19 L227.30,138.08 L227.52,128.01 L227.81,137.64 L227.99,138.63 L228.21,138.00 L228.35,139.65 L228.63,139.37 L228.98,139.02 L229.19,138.81 L229.34,132.13 L229.59,137.14 L229.83,124.29 L230.02,135.61 L230.25,137.82 L230.44,127.16 L230.62,127.10 L230.77,125.77 L231.02,121.73 L231.15,122.44 L231.32,124.71 L231.67,117.26 L231.98,122.22 L232.15,123.14 L232.27,118.21 L232.40,123.50 L232.65,128.93 L232.84,130.52 L233.15,123.37 L233.28,126.40 L233.51,118.31 L233.85,113.10 L234.17,117.36 L234.48,123.48 L234.79,112.34 L235.05,114.71 L235.24,118.37 L235.52,120.73 L235.86,127.08 L236.15,120.05 L236.50,123.40 L236.72,113.18 L236.98,117.45 L237.27,121.48 L237.64,112.98 L237.80,133.80 L237.85,112.57 L238.09,116.59 L238.45,109.02 L238.61,108.39 L238.84,118.67 L239.18,124.23 L239.45,106.02 L239.59,103.12 L239.83,102.63 L240.03,102.64 L240.18,102.13 L240.47,101.84 L240.83,107.49 L241.19,106.33 L241.55,104.77 L241.72,100.64 L241.93,111.45 L242.13,121.52 L242.33,114.84 L242.56,112.20 L242.75,114.60 L243.13,116.42 L243.31,115.72 L243.45,102.70 L243.80,103.26 L244.09,105.47 L244.29,105.90 L244.66,110.88 L244.91,111.44 L245.11,107.85 L245.30,106.92 L245.68,114.79 L245.85,116.48 L246.24,111.28 L246.40,101.33 L246.55,103.29 L246.73,100.41 L247.07,103.51 L247.45,102.52 L247.72,101.13 L247.95,104.18 L248.34,103.27 L248.51,106.42 L248.67,97.46 L248.82,110.08 L249.00,112.69 L249.39,108.85 L249.59,97.67 L249.85,110.52 L250.17,106.50 L250.39,105.63 L250.72,105.32 L250.97,96.04 L251.25,91.25 L251.60,97.13 L251.79,90.50 L252.15,89.99 L252.33,101.52 L252.51,97.95 L252.71,99.03 L253.11,100.81 L253.35,102.08 L253.49,98.34 L253.86,103.63 L254.17,87.16 L254.45,87.97 L254.73,88.54 L254.98,97.37 L255.21,104.45 L255.48,97.16 L255.71,101.07 L256.01,107.25 L256.38,105.09 L256.74,97.33 L256.95,106.36 L257.12,96.26 L257.35,95.98 L257.67,92.54 L257.93,105.45 L258.19,91.53 L258.60,90.56 L258.88,85.61 L259.04,91.74 L259.30,98.63 L259.45,88.97 L259.82,85.52 L260.06,95.86 L260.26,85.50 L260.52,85.50 L260.90,87.49 L261.12,85.50 L261.40,85.50 L261.72,91.62 L262.10,90.05 L262.31,90.20 L262.55,89.59 L262.71,89.50 L262.94,91.11 L263.23,93.60 L263.63,85.50 L264.01,86.97 L264.38,94.66 L264.72,91.44 L264.89,96.18 L265.17,91.79 L265.56,91.82 L265.94,95.82 L266.25,95.99 L266.49,95.65 L266.64,96.42 L266.86,92.50 L267.11,87.63 L267.44,89.59 L267.77,89.08 L268.19,91.62 L268.53,96.74 L268.90,97.84 L269.33,96.47 L269.61,95.32 L269.88,100.55 L270.12,92.50 L270.38,85.19 L270.59,85.03 L270.84,92.23 L271.00,95.92 L271.42,88.08 L271.59,88.71 L271.80,84.06 L272.10,86.78 L272.33,96.08 L272.63,93.42 L272.84,89.32 L273.03,99.89 L273.33,93.36 L273.70,88.98 L274.12,95.13 L274.32,86.45 L274.49,83.81 L274.70,88.40 L275.10,91.28 L275.53,99.34 L275.71,99.29 L275.92,93.95 L276.13,98.76 L276.39,96.73 L276.79,94.84 L277.06,91.04 L277.33,92.28 L277.56,95.00 L277.91,91.17 L278.13,92.70 L278.41,87.25 L278.77,86.14 L278.99,83.40 L279.19,79.40 L279.57,79.21 L279.90,85.86 L280.24,84.94 L280.63,86.88 L281.05,79.67 L281.28,83.42 L281.71,83.49 L282.11,81.35 L282.56,78.23 L282.86,94.12 L283.07,90.26 L283.45,83.89 L283.78,90.42 L284.20,93.16 L284.50,79.72 L284.79,79.70 L285.10,77.48 L285.32,77.44 L285.50,79.10 L285.75,77.35 L286.18,84.58 L286.65,80.57 L287.06,82.65 L287.22,79.40 L287.59,81.48 L287.90,78.11 L288.23,81.13 L288.56,91.37 L288.84,94.39 L289.10,94.43 L289.49,93.82 L289.71,94.28 L289.99,88.95 L290.17,86.27 L290.48,87.73 L290.69,92.79 L290.88,77.77 L291.31,77.75 L291.64,78.99 L291.88,82.49 L292.14,85.86 L292.61,84.34 L292.92,80.58 L293.39,83.72 L293.61,78.25 L293.83,77.91 L294.06,89.70 L294.46,86.55 L294.91,92.11 L295.31,92.63 L295.55,75.79 L295.82,82.91 L296.22,87.48 L296.47,93.09 L296.80,81.46 L297.21,90.92 L297.53,85.66 L297.96,78.89 L298.21,73.58 L298.50,74.75 L298.68,82.63 L298.91,91.06 L299.32,72.91 L299.76,75.87 L300.00,67.90 L300.17,77.39 L300.52,81.12 L300.93,85.85 L301.15,82.52 L301.40,98.20 L301.64,82.03 L302.05,74.41 L302.26,71.59 L302.63,71.45 L302.85,81.68 L303.31,89.02 L303.52,89.06 L303.95,86.27 L304.25,70.80 L304.62,76.67 L304.88,78.47 L305.14,79.29 L305.55,81.10 L305.89,82.91 L306.17,85.58 L306.20,63.70 L306.61,83.50 L306.91,85.40 L307.31,76.89 L307.59,80.09 L308.03,88.41 L308.32,86.74 L308.52,92.06 L308.80,80.11 L309.17,76.95 L309.44,80.60 L309.73,81.44 L309.97,76.63 L310.40,76.58 L310.50,159.80 L310.78,72.96 L311.13,71.06 L311.40,67.30 L311.45,72.48 L311.89,78.79 L312.24,92.51 L312.61,93.02 L313.00,88.11 L313.52,87.10 L313.76,72.38 L313.97,92.43 L314.32,83.87 L314.82,84.02 L315.14,90.37 L315.20,72.40 L315.31,87.98 L315.74,92.80 L315.93,81.30 L316.34,80.51 L316.62,88.03 L316.91,91.81 L317.11,93.35 L317.63,93.55 L317.88,93.65 L318.08,93.73 L318.40,98.60 L318.53,84.90 L318.89,84.34 L319.31,84.15 L319.67,86.03 L319.87,86.51 L320.29,91.26 L320.72,88.07 L321.10,84.54 L321.49,89.40 L321.68,86.78 L321.95,94.39 L322.30,92.29 L322.72,95.39 L323.17,96.78 L323.42,93.66 L323.72,95.38 L324.11,94.76 L324.52,93.55 L324.73,95.32 L324.98,90.60 L325.48,90.83 L325.87,88.57 L326.07,93.41 L326.52,92.54 L326.96,87.91 L327.25,89.77 L327.50,93.34 L327.91,88.07 L328.13,84.06 L328.60,84.00 L328.96,86.44 L329.31,89.59 L329.73,94.31 L330.18,95.47 L330.70,92.27 L331.18,89.01 L331.42,83.96 L331.89,85.06 L332.30,86.23 L332.84,85.98 L333.37,96.59 L333.72,96.46 L334.22,96.97 L334.56,92.90 L335.10,96.85 L335.39,98.91 L335.69,98.95 L336.03,99.00 L336.25,96.85 L336.78,95.01 L337.32,96.99 L337.60,98.28 L337.91,93.44 L338.18,87.45 L338.52,88.08 L338.91,87.57 L339.45,98.01 L339.93,97.05 L340.22,94.26 L340.49,100.58 L341.03,101.12 L341.58,100.51 L341.94,97.60 L342.15,99.36 L342.46,95.93 L343.02,98.89 L343.33,102.50 L343.78,102.77 L344.13,102.98 L344.46,101.50 L344.76,95.24 L345.00,95.23 L345.54,95.31 L345.87,97.59 L346.11,100.47 L346.43,94.62 L346.76,94.07 L347.07,89.13 L347.44,91.33 L347.94,90.75 L348.20,93.01 L348.73,89.38 L349.14,92.38 L349.67,90.19 L350.02,95.50 L350.22,89.90 L350.61,90.29 L350.99,86.72 L351.27,89.74 L351.86,99.64 L352.13,103.45 L352.65,100.45 L353.07,100.15 L353.61,102.86 L354.20,91.54 L354.43,91.05 L354.93,94.02 L355.32,93.87 L355.93,86.89 L356.40,93.35 L356.64,89.73 L357.21,93.15 L357.75,94.54 L358.07,93.85 L358.36,93.10 L358.86,98.24 L359.45,97.86 L359.74,94.71 L360.20,88.56 L360.72,91.07 L361.01,92.12 L361.44,96.12 L361.89,95.46 L362.15,97.89 L362.57,93.82 L363.06,98.70 L363.60,102.08 L364.17,99.52 L364.44,100.94 L365.03,96.23 L365.46,97.98 L365.96,96.56 L366.49,99.93 L367.03,98.86 L367.63,100.08 L368.15,96.38 L368.77,95.22 L369.16,97.08 L369.53,99.67 L369.99,93.17 L370.48,103.17 L370.89,98.85 L371.37,94.48 L371.80,92.96 L372.37,94.47 L372.66,97.69 L373.24,95.06 L373.49,92.90 L374.01,95.59 L374.32,97.02 L374.77,100.43 L375.24,102.87 L375.54,101.40 L376.18,94.35 L376.52,97.79 L377.02,100.80 L377.24,93.10 L377.65,93.58 L378.22,95.32 L378.57,94.36 L379.05,102.41 L379.49,104.29 L379.86,96.63 L380.11,92.27 L380.56,92.94 L380.94,96.35 L381.23,97.07 L381.49,101.38 L381.82,94.87 L382.35,95.23 L382.91,95.41 L383.23,99.42 L383.58,99.19 L383.91,104.74 L384.39,96.07 L384.68,91.78 L384.93,97.48 L385.57,104.10 L386.11,93.92 L386.61,99.89 L386.97,99.55 L387.25,103.11 L387.52,107.26 L388.08,98.64 L388.65,104.87 L389.19,104.01 L389.53,101.71 L389.93,95.57 L390.55,100.64 L391.12,107.07 L391.51,101.87 L391.97,101.67 L392.37,94.27 L392.76,94.37 L393.39,95.27 L393.62,94.84 L393.94,94.59 L394.43,94.67 L395.07,94.76 L395.57,104.35 L395.88,96.56 L396.50,106.76 L397.08,95.06 L397.49,98.71 L397.83,107.93 L398.41,97.70 L398.81,95.78 L399.19,105.73 L399.60,100.73 L400.09,95.49 L400.57,101.82 L400.94,113.24 L401.30,88.00 L401.30,131.50 L401.53,108.59 L401.90,109.77 L402.52,112.79 L403.07,112.64 L403.55,112.51 L403.96,106.87 L404.51,102.34 L405.10,105.30 L405.50,82.00 L405.61,104.38 L406.30,100.74 L406.95,97.28 L407.20,101.75 L407.72,97.37 L408.11,98.76 L408.61,99.94 L408.97,107.93 L409.44,103.99 L410.04,101.52 L410.36,105.46 L411.02,105.80 L411.30,99.93 L411.94,106.30 L412.42,106.20 L412.70,99.60 L413.24,105.21 L413.64,106.55 L414.32,103.09 L414.77,111.24 L415.05,111.36 L415.41,111.47 L415.93,107.88 L416.60,104.71 L417.22,103.97 L417.87,100.86 L418.28,101.04 L418.73,116.07 L418.98,112.81 L419.32,112.87 L419.67,117.28 L420.00,116.58 L420.74,110.96 L421.21,117.53 L421.57,109.39 L422.21,106.97 L422.48,109.87 L423.09,106.61 L423.76,106.84 L424.11,106.61 L424.54,108.79 L425.24,107.14 L425.61,108.38 L426.19,107.58 L426.47,117.00 L427.17,108.71 L427.60,103.73 L427.89,109.04 L428.16,114.73 L428.47,114.61 L429.16,103.87 L429.84,102.54 L430.46,102.04 L431.00,101.63 L431.30,105.13 L431.69,104.11 L432.45,106.62 L433.00,119.50 L433.00,106.79 L433.38,99.12 L434.09,104.82 L434.42,105.04 L435.09,116.12 L435.56,105.15 L436.14,110.02 L436.62,112.16 L437.27,117.60 L437.54,117.24 L438.31,116.26 L439.01,115.37 L439.77,107.87 L440.19,108.79 L440.89,114.87 L441.47,115.36 L441.77,115.62 L442.07,113.04 L442.47,115.24 L443.11,113.55 L443.90,104.95 L444.61,100.34 L445.26,100.81 L445.61,107.25 L446.17,111.27 L446.61,118.75 L447.19,109.82 L447.54,109.02 L447.95,109.43 L448.58,108.62 L449.37,107.48 L449.97,114.30 L450.75,109.11 L451.40,110.72 L451.77,109.67 L452.30,110.81 L452.93,117.67 L453.65,114.20 L454.00,113.84 L454.79,111.66 L455.07,117.30 L455.54,121.96 L456.21,119.63 L456.73,117.55 L457.31,121.96 L458.02,120.78 L458.47,119.41 L459.16,115.78 L459.93,125.25 L460.54,125.62 L460.97,123.09 L461.38,122.23 L461.80,150.10 L462.12,119.70 L462.49,114.65 L462.84,114.55 L463.51,118.33 L463.96,118.45 L464.41,114.37 L465.13,120.14 L465.52,121.10 L465.83,115.39 L466.46,115.81 L466.95,120.69 L467.32,115.51 L467.61,118.26 L467.95,115.32 L468.34,113.43 L468.84,110.44 L469.51,107.01 L470.33,112.14 L471.07,109.16 L471.54,107.30 L472.19,107.51 L472.76,108.24 L473.48,111.88 L474.34,118.86 L474.65,117.76 L474.98,121.48 L475.75,122.77 L476.40,121.27 L476.70,122.34 L477.53,120.44 L478.34,124.05 L478.72,126.32 L479.46,127.20 L479.82,127.29 L480.62,126.87 L481.17,129.15 L481.79,121.38 L482.29,127.20 L482.50,138.30 L482.86,128.37 L483.26,125.67 L484.05,123.21 L484.84,131.19 L485.35,128.52 L486.17,128.94 L486.73,126.59 L487.17,128.17 L487.99,130.25 L488.00,143.20 L488.66,131.59 L489.27,125.62 L489.69,125.49 L490.48,129.71 L490.94,125.81 L491.79,127.60 L492.47,130.40 L493.28,128.57 L494.17,128.70 L494.57,123.53 L495.36,136.29 L496.13,137.42 L496.68,137.57 L496.99,137.66 L497.32,127.26 L497.91,131.98 L498.40,129.93 L499.19,125.66 L500.02,128.90 L500.86,128.71 L501.59,126.29 L501.60,151.90 L502.26,122.61 L502.76,125.11 L503.20,131.32 L503.57,127.78 L504.00,158.00 L504.49,119.26 L505.02,121.65 L505.42,118.03 L505.91,133.04 L506.79,125.71 L507.00,101.30 L507.22,139.50 L507.81,138.45 L508.45,137.00 L509.00,127.41 L509.51,125.47 L510.03,128.23 L510.61,125.18 L511.46,119.42 L512.20,139.40 L512.41,118.79 L512.80,122.43 L513.40,124.72 L514.27,123.32 L515.09,131.09 L515.46,139.69 L515.84,136.77 L516.40,106.70 L516.50,139.91 L517.37,140.45 L517.98,135.04 L518.76,141.00 L519.11,137.68 L519.76,141.41 L519.80,106.70 L520.27,132.00 L521.18,123.99 L521.73,125.99 L522.14,130.29 L522.60,136.44 L523.22,126.55 L524.17,142.92 L524.40,144.40 L524.65,133.92 L525.20,124.83 L525.60,111.80 L525.75,126.41 L526.22,128.48 L526.94,143.84 L527.57,126.41 L528.10,116.80 L528.35,130.28 L528.69,135.69 L529.25,125.95 L530.22,128.59 L530.30,148.60 L530.56,121.92 L531.19,118.25 L531.58,126.40 L532.30,127.98 L532.80,117.60 L532.99,143.12 L533.51,142.47 L533.91,130.24 L534.43,138.80 L534.80,142.70 L535.37,139.01 L536.34,134.34 L536.84,130.30 L536.90,181.90 L537.31,123.77 L537.66,136.34 L538.20,152.80 L538.33,125.19 L539.00,125.20 L539.23,135.16 L539.83,130.48 L540.48,128.65 L540.60,166.40 L541.00,128.00 L541.80,160.00 L542.50,124.00 L543.30,145.00 L544.00,122.00 L544.80,150.00 L545.80,227.20 L546.50,125.00 L547.20,145.00 L548.00,112.00 L548.60,125.00 L549.20,105.00 L549.80,118.00 L550.70,77.70 L551.30,112.00 L551.90,92.00 L552.50,110.00 L553.10,96.00 L553.70,112.00 L554.30,76.80 L554.90,100.00 L555.50,115.00 L556.10,100.00 L556.80,118.00 L557.50,125.00 L558.20,114.00 L558.90,126.00 L559.60,116.00 L560.30,127.00 L561.00,116.00 L561.70,130.00 L562.40,110.00 L563.20,85.80 L563.80,128.00 L564.50,100.00 L565.20,132.00 L566.00,115.00 L566.70,151.00 L567.40,120.00 L568.10,132.00 L569.10,106.00 L569.80,128.00 L570.50,168.50 L571.20,122.00 L571.70,214.30 L572.30,128.00 L573.00,135.00 L573.60,126.80 L574.30,140.00 L575.00,125.00 L575.60,135.00 L576.30,119.00 L576.80,206.20 L577.50,128.00 L578.20,136.00 L578.80,116.00 L579.50,135.00 L580.20,126.00 L580.80,207.00 L581.50,130.00 L582.20,105.90 L582.60,190.80 L583.30,130.00 L584.00,118.00 L585.00,322.50 L585.70,135.00 L586.30,112.60 L586.80,291.50 L587.30,241.40 L587.80,131.00 L588.30,203.50 L588.90,218.80" stroke="#000" stroke-width="1.0"/>
<path d="M107.50,320.20l2.3,2.3l-2.3,2.3l-2.3,-2.3zM109.50,318.20l2.3,2.3l-2.3,2.3l-2.3,-2.3zM111.50,316.20l2.3,2.3l-2.3,2.3l-2.3,-2.3zM113.00,313.70l2.3,2.3l-2.3,2.3l-2.3,-2.3zM114.50,311.20l2.3,2.3l-2.3,2.3l-2.3,-2.3zM115.50,314.70l2.3,2.3l-2.3,2.3l-2.3,-2.3zM113.80,317.70l2.3,2.3l-2.3,2.3l-2.3,-2.3zM115.20,319.20l2.3,2.3l-2.3,2.3l-2.3,-2.3zM116.20,315.70l2.3,2.3l-2.3,2.3l-2.3,-2.3zM116.50,309.70l2.3,2.3l-2.3,2.3l-2.3,-2.3zM117.00,301.70l2.3,2.3l-2.3,2.3l-2.3,-2.3zM116.80,290.70l2.3,2.3l-2.3,2.3l-2.3,-2.3zM117.00,261.70l2.3,2.3l-2.3,2.3l-2.3,-2.3zM117.40,293.70l2.3,2.3l-2.3,2.3l-2.3,-2.3zM117.20,261.70l2.3,2.3l-2.3,2.3l-2.3,-2.3zM117.50,245.40l2.3,2.3l-2.3,2.3l-2.3,-2.3zM119.60,240.90l2.3,2.3l-2.3,2.3l-2.3,-2.3zM122.30,225.80l2.3,2.3l-2.3,2.3l-2.3,-2.3zM123.30,219.70l2.3,2.3l-2.3,2.3l-2.3,-2.3zM124.30,209.30l2.3,2.3l-2.3,2.3l-2.3,-2.3zM125.40,204.20l2.3,2.3l-2.3,2.3l-2.3,-2.3zM126.40,195.90l2.3,2.3l-2.3,2.3l-2.3,-2.3zM127.30,188.80l2.3,2.3l-2.3,2.3l-2.3,-2.3zM128.70,183.70l2.3,2.3l-2.3,2.3l-2.3,-2.3zM130.80,171.30l2.3,2.3l-2.3,2.3l-2.3,-2.3zM133.90,162.00l2.3,2.3l-2.3,2.3l-2.3,-2.3zM135.90,152.70l2.3,2.3l-2.3,2.3l-2.3,-2.3zM138.00,138.30l2.3,2.3l-2.3,2.3l-2.3,-2.3zM138.60,134.20l2.3,2.3l-2.3,2.3l-2.3,-2.3zM140.00,125.90l2.3,2.3l-2.3,2.3l-2.3,-2.3zM140.80,113.70l2.3,2.3l-2.3,2.3l-2.3,-2.3zM141.70,101.00l2.3,2.3l-2.3,2.3l-2.3,-2.3zM142.00,91.10l2.3,2.3l-2.3,2.3l-2.3,-2.3zM142.60,80.30l2.3,2.3l-2.3,2.3l-2.3,-2.3zM144.40,70.30l2.3,2.3l-2.3,2.3l-2.3,-2.3zM145.50,67.70l2.3,2.3l-2.3,2.3l-2.3,-2.3zM147.10,65.80l2.3,2.3l-2.3,2.3l-2.3,-2.3zM148.30,68.20l2.3,2.3l-2.3,2.3l-2.3,-2.3zM149.70,73.70l2.3,2.3l-2.3,2.3l-2.3,-2.3zM151.60,80.90l2.3,2.3l-2.3,2.3l-2.3,-2.3zM153.50,84.37l2.3,2.3l-2.3,2.3l-2.3,-2.3zM153.63,86.94l2.3,2.3l-2.3,2.3l-2.3,-2.3zM153.79,85.74l2.3,2.3l-2.3,2.3l-2.3,-2.3zM153.86,84.90l2.3,2.3l-2.3,2.3l-2.3,-2.3zM154.06,85.07l2.3,2.3l-2.3,2.3l-2.3,-2.3zM154.28,87.20l2.3,2.3l-2.3,2.3l-2.3,-2.3zM154.42,88.26l2.3,2.3l-2.3,2.3l-2.3,-2.3zM154.59,84.99l2.3,2.3l-2.3,2.3l-2.3,-2.3zM154.69,81.88l2.3,2.3l-2.3,2.3l-2.3,-2.3zM154.84,81.74l2.3,2.3l-2.3,2.3l-2.3,-2.3zM155.02,81.81l2.3,2.3l-2.3,2.3l-2.3,-2.3zM155.21,82.89l2.3,2.3l-2.3,2.3l-2.3,-2.3zM155.37,84.42l2.3,2.3l-2.3,2.3l-2.3,-2.3zM155.57,86.58l2.3,2.3l-2.3,2.3l-2.3,-2.3zM155.72,85.77l2.3,2.3l-2.3,2.3l-2.3,-2.3zM155.90,82.16l2.3,2.3l-2.3,2.3l-2.3,-2.3zM156.11,82.24l2.3,2.3l-2.3,2.3l-2.3,-2.3zM156.25,86.21l2.3,2.3l-2.3,2.3l-2.3,-2.3zM156.47,88.62l2.3,2.3l-2.3,2.3l-2.3,-2.3zM156.56,87.54l2.3,2.3l-2.3,2.3l-2.3,-2.3zM156.67,92.40l2.3,2.3l-2.3,2.3l-2.3,-2.3zM156.84,90.32l2.3,2.3l-2.3,2.3l-2.3,-2.3zM156.96,85.89l2.3,2.3l-2.3,2.3l-2.3,-2.3zM157.08,87.19l2.3,2.3l-2.3,2.3l-2.3,-2.3zM157.25,82.62l2.3,2.3l-2.3,2.3l-2.3,-2.3zM157.43,82.68l2.3,2.3l-2.3,2.3l-2.3,-2.3zM157.64,92.19l2.3,2.3l-2.3,2.3l-2.3,-2.3zM157.82,82.81l2.3,2.3l-2.3,2.3l-2.3,-2.3zM157.92,92.19l2.3,2.3l-2.3,2.3l-2.3,-2.3zM158.13,82.91l2.3,2.3l-2.3,2.3l-2.3,-2.3zM158.29,84.98l2.3,2.3l-2.3,2.3l-2.3,-2.3zM158.50,84.16l2.3,2.3l-2.3,2.3l-2.3,-2.3zM158.66,86.66l2.3,2.3l-2.3,2.3l-2.3,-2.3zM158.87,90.53l2.3,2.3l-2.3,2.3l-2.3,-2.3zM159.09,99.14l2.3,2.3l-2.3,2.3l-2.3,-2.3zM159.23,100.43l2.3,2.3l-2.3,2.3l-2.3,-2.3zM159.33,95.11l2.3,2.3l-2.3,2.3l-2.3,-2.3zM159.54,100.74l2.3,2.3l-2.3,2.3l-2.3,-2.3zM159.62,97.32l2.3,2.3l-2.3,2.3l-2.3,-2.3zM159.81,94.23l2.3,2.3l-2.3,2.3l-2.3,-2.3zM159.94,101.14l2.3,2.3l-2.3,2.3l-2.3,-2.3zM160.09,89.26l2.3,2.3l-2.3,2.3l-2.3,-2.3zM160.32,89.72l2.3,2.3l-2.3,2.3l-2.3,-2.3zM160.49,92.97l2.3,2.3l-2.3,2.3l-2.3,-2.3zM160.58,94.70l2.3,2.3l-2.3,2.3l-2.3,-2.3zM160.75,99.50l2.3,2.3l-2.3,2.3l-2.3,-2.3zM160.85,102.05l2.3,2.3l-2.3,2.3l-2.3,-2.3zM160.97,102.17l2.3,2.3l-2.3,2.3l-2.3,-2.3zM161.20,102.30l2.3,2.3l-2.3,2.3l-2.3,-2.3zM161.35,96.65l2.3,2.3l-2.3,2.3l-2.3,-2.3zM161.51,90.42l2.3,2.3l-2.3,2.3l-2.3,-2.3zM161.67,85.44l2.3,2.3l-2.3,2.3l-2.3,-2.3zM161.85,95.03l2.3,2.3l-2.3,2.3l-2.3,-2.3zM161.99,91.90l2.3,2.3l-2.3,2.3l-2.3,-2.3zM162.18,92.97l2.3,2.3l-2.3,2.3l-2.3,-2.3zM162.41,98.14l2.3,2.3l-2.3,2.3l-2.3,-2.3zM162.57,95.58l2.3,2.3l-2.3,2.3l-2.3,-2.3zM162.72,94.65l2.3,2.3l-2.3,2.3l-2.3,-2.3zM162.89,102.23l2.3,2.3l-2.3,2.3l-2.3,-2.3zM163.06,99.98l2.3,2.3l-2.3,2.3l-2.3,-2.3zM163.15,93.20l2.3,2.3l-2.3,2.3l-2.3,-2.3zM163.34,89.10l2.3,2.3l-2.3,2.3l-2.3,-2.3zM163.47,88.74l2.3,2.3l-2.3,2.3l-2.3,-2.3zM163.55,85.12l2.3,2.3l-2.3,2.3l-2.3,-2.3zM163.64,85.18l2.3,2.3l-2.3,2.3l-2.3,-2.3zM163.76,85.27l2.3,2.3l-2.3,2.3l-2.3,-2.3zM163.91,85.38l2.3,2.3l-2.3,2.3l-2.3,-2.3zM164.05,85.49l2.3,2.3l-2.3,2.3l-2.3,-2.3zM164.18,85.58l2.3,2.3l-2.3,2.3l-2.3,-2.3zM164.31,92.62l2.3,2.3l-2.3,2.3l-2.3,-2.3zM164.44,93.75l2.3,2.3l-2.3,2.3l-2.3,-2.3zM164.61,93.01l2.3,2.3l-2.3,2.3l-2.3,-2.3zM164.81,92.46l2.3,2.3l-2.3,2.3l-2.3,-2.3zM165.02,97.29l2.3,2.3l-2.3,2.3l-2.3,-2.3zM165.14,98.74l2.3,2.3l-2.3,2.3l-2.3,-2.3zM165.33,102.84l2.3,2.3l-2.3,2.3l-2.3,-2.3zM165.42,97.62l2.3,2.3l-2.3,2.3l-2.3,-2.3zM165.64,101.22l2.3,2.3l-2.3,2.3l-2.3,-2.3zM165.79,100.95l2.3,2.3l-2.3,2.3l-2.3,-2.3zM165.92,96.01l2.3,2.3l-2.3,2.3l-2.3,-2.3zM166.11,100.35l2.3,2.3l-2.3,2.3l-2.3,-2.3zM166.22,94.28l2.3,2.3l-2.3,2.3l-2.3,-2.3zM166.32,91.11l2.3,2.3l-2.3,2.3l-2.3,-2.3zM166.53,92.14l2.3,2.3l-2.3,2.3l-2.3,-2.3zM166.75,95.29l2.3,2.3l-2.3,2.3l-2.3,-2.3zM166.96,99.53l2.3,2.3l-2.3,2.3l-2.3,-2.3zM167.15,99.70l2.3,2.3l-2.3,2.3l-2.3,-2.3zM167.25,93.10l2.3,2.3l-2.3,2.3l-2.3,-2.3zM167.38,95.27l2.3,2.3l-2.3,2.3l-2.3,-2.3zM167.51,90.99l2.3,2.3l-2.3,2.3l-2.3,-2.3zM167.66,87.66l2.3,2.3l-2.3,2.3l-2.3,-2.3zM167.89,93.63l2.3,2.3l-2.3,2.3l-2.3,-2.3zM168.00,104.80l2.3,2.3l-2.3,2.3l-2.3,-2.3zM168.23,103.50l2.3,2.3l-2.3,2.3l-2.3,-2.3zM168.47,87.44l2.3,2.3l-2.3,2.3l-2.3,-2.3zM168.70,96.35l2.3,2.3l-2.3,2.3l-2.3,-2.3zM168.82,95.74l2.3,2.3l-2.3,2.3l-2.3,-2.3zM169.01,86.20l2.3,2.3l-2.3,2.3l-2.3,-2.3zM169.18,87.77l2.3,2.3l-2.3,2.3l-2.3,-2.3zM169.30,96.06l2.3,2.3l-2.3,2.3l-2.3,-2.3zM169.39,91.84l2.3,2.3l-2.3,2.3l-2.3,-2.3zM169.61,90.84l2.3,2.3l-2.3,2.3l-2.3,-2.3zM169.70,100.15l2.3,2.3l-2.3,2.3l-2.3,-2.3zM169.93,93.27l2.3,2.3l-2.3,2.3l-2.3,-2.3zM170.16,100.39l2.3,2.3l-2.3,2.3l-2.3,-2.3zM170.25,94.00l2.3,2.3l-2.3,2.3l-2.3,-2.3zM170.45,96.93l2.3,2.3l-2.3,2.3l-2.3,-2.3zM170.65,100.63l2.3,2.3l-2.3,2.3l-2.3,-2.3zM170.82,87.08l2.3,2.3l-2.3,2.3l-2.3,-2.3zM171.00,97.36l2.3,2.3l-2.3,2.3l-2.3,-2.3zM171.14,96.43l2.3,2.3l-2.3,2.3l-2.3,-2.3zM171.31,104.55l2.3,2.3l-2.3,2.3l-2.3,-2.3zM171.52,100.19l2.3,2.3l-2.3,2.3l-2.3,-2.3zM171.69,101.18l2.3,2.3l-2.3,2.3l-2.3,-2.3zM171.91,103.39l2.3,2.3l-2.3,2.3l-2.3,-2.3zM172.15,104.12l2.3,2.3l-2.3,2.3l-2.3,-2.3zM172.37,103.45l2.3,2.3l-2.3,2.3l-2.3,-2.3zM172.56,99.56l2.3,2.3l-2.3,2.3l-2.3,-2.3zM172.79,101.77l2.3,2.3l-2.3,2.3l-2.3,-2.3zM172.92,100.42l2.3,2.3l-2.3,2.3l-2.3,-2.3zM173.09,93.12l2.3,2.3l-2.3,2.3l-2.3,-2.3zM173.31,96.65l2.3,2.3l-2.3,2.3l-2.3,-2.3zM173.39,98.56l2.3,2.3l-2.3,2.3l-2.3,-2.3zM173.50,98.08l2.3,2.3l-2.3,2.3l-2.3,-2.3zM173.60,103.40l2.3,2.3l-2.3,2.3l-2.3,-2.3zM173.70,100.49l2.3,2.3l-2.3,2.3l-2.3,-2.3zM173.87,96.55l2.3,2.3l-2.3,2.3l-2.3,-2.3zM174.01,99.92l2.3,2.3l-2.3,2.3l-2.3,-2.3zM174.21,93.94l2.3,2.3l-2.3,2.3l-2.3,-2.3zM174.32,91.97l2.3,2.3l-2.3,2.3l-2.3,-2.3zM174.46,97.62l2.3,2.3l-2.3,2.3l-2.3,-2.3zM174.67,100.87l2.3,2.3l-2.3,2.3l-2.3,-2.3zM174.82,101.12l2.3,2.3l-2.3,2.3l-2.3,-2.3zM174.97,100.05l2.3,2.3l-2.3,2.3l-2.3,-2.3zM175.16,99.00l2.3,2.3l-2.3,2.3l-2.3,-2.3zM175.38,92.97l2.3,2.3l-2.3,2.3l-2.3,-2.3zM175.58,89.81l2.3,2.3l-2.3,2.3l-2.3,-2.3zM175.75,93.92l2.3,2.3l-2.3,2.3l-2.3,-2.3zM175.96,88.30l2.3,2.3l-2.3,2.3l-2.3,-2.3zM176.12,94.60l2.3,2.3l-2.3,2.3l-2.3,-2.3zM176.25,88.11l2.3,2.3l-2.3,2.3l-2.3,-2.3zM176.35,89.54l2.3,2.3l-2.3,2.3l-2.3,-2.3zM176.51,88.21l2.3,2.3l-2.3,2.3l-2.3,-2.3zM176.76,92.76l2.3,2.3l-2.3,2.3l-2.3,-2.3zM176.91,100.34l2.3,2.3l-2.3,2.3l-2.3,-2.3zM177.04,93.83l2.3,2.3l-2.3,2.3l-2.3,-2.3zM177.21,100.50l2.3,2.3l-2.3,2.3l-2.3,-2.3zM177.41,103.10l2.3,2.3l-2.3,2.3l-2.3,-2.3zM177.65,102.75l2.3,2.3l-2.3,2.3l-2.3,-2.3zM177.87,93.94l2.3,2.3l-2.3,2.3l-2.3,-2.3zM178.05,99.59l2.3,2.3l-2.3,2.3l-2.3,-2.3zM178.14,102.01l2.3,2.3l-2.3,2.3l-2.3,-2.3zM178.25,100.31l2.3,2.3l-2.3,2.3l-2.3,-2.3zM178.36,97.82l2.3,2.3l-2.3,2.3l-2.3,-2.3zM178.46,99.81l2.3,2.3l-2.3,2.3l-2.3,-2.3zM178.55,97.05l2.3,2.3l-2.3,2.3l-2.3,-2.3zM178.79,104.24l2.3,2.3l-2.3,2.3l-2.3,-2.3zM179.00,106.19l2.3,2.3l-2.3,2.3l-2.3,-2.3zM179.23,106.89l2.3,2.3l-2.3,2.3l-2.3,-2.3zM179.46,105.14l2.3,2.3l-2.3,2.3l-2.3,-2.3zM179.55,103.78l2.3,2.3l-2.3,2.3l-2.3,-2.3zM179.77,96.58l2.3,2.3l-2.3,2.3l-2.3,-2.3zM179.88,98.16l2.3,2.3l-2.3,2.3l-2.3,-2.3zM179.98,92.16l2.3,2.3l-2.3,2.3l-2.3,-2.3zM180.12,92.54l2.3,2.3l-2.3,2.3l-2.3,-2.3zM180.25,92.91l2.3,2.3l-2.3,2.3l-2.3,-2.3zM180.37,93.26l2.3,2.3l-2.3,2.3l-2.3,-2.3zM180.60,104.74l2.3,2.3l-2.3,2.3l-2.3,-2.3zM180.76,100.73l2.3,2.3l-2.3,2.3l-2.3,-2.3zM180.91,106.13l2.3,2.3l-2.3,2.3l-2.3,-2.3zM181.07,111.14l2.3,2.3l-2.3,2.3l-2.3,-2.3zM181.33,112.37l2.3,2.3l-2.3,2.3l-2.3,-2.3zM181.50,109.83l2.3,2.3l-2.3,2.3l-2.3,-2.3zM181.71,105.43l2.3,2.3l-2.3,2.3l-2.3,-2.3zM181.93,103.25l2.3,2.3l-2.3,2.3l-2.3,-2.3zM182.11,99.14l2.3,2.3l-2.3,2.3l-2.3,-2.3zM182.32,105.56l2.3,2.3l-2.3,2.3l-2.3,-2.3zM182.42,104.87l2.3,2.3l-2.3,2.3l-2.3,-2.3zM182.65,112.87l2.3,2.3l-2.3,2.3l-2.3,-2.3zM182.82,108.35l2.3,2.3l-2.3,2.3l-2.3,-2.3zM183.04,111.25l2.3,2.3l-2.3,2.3l-2.3,-2.3zM183.16,115.41l2.3,2.3l-2.3,2.3l-2.3,-2.3zM183.36,112.39l2.3,2.3l-2.3,2.3l-2.3,-2.3zM183.58,116.49l2.3,2.3l-2.3,2.3l-2.3,-2.3zM183.84,112.81l2.3,2.3l-2.3,2.3l-2.3,-2.3zM184.01,122.19l2.3,2.3l-2.3,2.3l-2.3,-2.3zM184.25,115.28l2.3,2.3l-2.3,2.3l-2.3,-2.3zM184.38,112.72l2.3,2.3l-2.3,2.3l-2.3,-2.3zM184.48,107.74l2.3,2.3l-2.3,2.3l-2.3,-2.3zM184.60,111.61l2.3,2.3l-2.3,2.3l-2.3,-2.3zM184.76,108.82l2.3,2.3l-2.3,2.3l-2.3,-2.3zM184.88,121.33l2.3,2.3l-2.3,2.3l-2.3,-2.3zM185.15,111.64l2.3,2.3l-2.3,2.3l-2.3,-2.3zM185.33,115.12l2.3,2.3l-2.3,2.3l-2.3,-2.3zM185.57,119.92l2.3,2.3l-2.3,2.3l-2.3,-2.3zM185.75,112.33l2.3,2.3l-2.3,2.3l-2.3,-2.3zM185.98,119.09l2.3,2.3l-2.3,2.3l-2.3,-2.3zM186.20,114.54l2.3,2.3l-2.3,2.3l-2.3,-2.3zM186.47,112.66l2.3,2.3l-2.3,2.3l-2.3,-2.3zM186.61,116.80l2.3,2.3l-2.3,2.3l-2.3,-2.3zM186.83,111.58l2.3,2.3l-2.3,2.3l-2.3,-2.3zM187.09,111.21l2.3,2.3l-2.3,2.3l-2.3,-2.3zM187.22,111.73l2.3,2.3l-2.3,2.3l-2.3,-2.3zM187.35,120.58l2.3,2.3l-2.3,2.3l-2.3,-2.3zM187.57,130.27l2.3,2.3l-2.3,2.3l-2.3,-2.3zM187.72,117.06l2.3,2.3l-2.3,2.3l-2.3,-2.3zM187.97,117.48l2.3,2.3l-2.3,2.3l-2.3,-2.3zM188.20,126.64l2.3,2.3l-2.3,2.3l-2.3,-2.3zM188.31,134.80l2.3,2.3l-2.3,2.3l-2.3,-2.3zM188.46,135.19l2.3,2.3l-2.3,2.3l-2.3,-2.3zM188.62,125.02l2.3,2.3l-2.3,2.3l-2.3,-2.3zM188.71,120.72l2.3,2.3l-2.3,2.3l-2.3,-2.3zM188.87,116.22l2.3,2.3l-2.3,2.3l-2.3,-2.3zM189.00,123.29l2.3,2.3l-2.3,2.3l-2.3,-2.3zM189.21,131.10l2.3,2.3l-2.3,2.3l-2.3,-2.3zM189.40,128.07l2.3,2.3l-2.3,2.3l-2.3,-2.3zM189.52,126.54l2.3,2.3l-2.3,2.3l-2.3,-2.3zM189.63,136.63l2.3,2.3l-2.3,2.3l-2.3,-2.3zM189.90,136.21l2.3,2.3l-2.3,2.3l-2.3,-2.3zM190.17,132.13l2.3,2.3l-2.3,2.3l-2.3,-2.3zM190.33,132.77l2.3,2.3l-2.3,2.3l-2.3,-2.3zM190.49,121.02l2.3,2.3l-2.3,2.3l-2.3,-2.3zM190.71,119.76l2.3,2.3l-2.3,2.3l-2.3,-2.3zM190.85,120.08l2.3,2.3l-2.3,2.3l-2.3,-2.3zM191.09,130.31l2.3,2.3l-2.3,2.3l-2.3,-2.3zM191.29,128.71l2.3,2.3l-2.3,2.3l-2.3,-2.3zM191.41,124.10l2.3,2.3l-2.3,2.3l-2.3,-2.3zM191.64,127.85l2.3,2.3l-2.3,2.3l-2.3,-2.3zM191.86,126.37l2.3,2.3l-2.3,2.3l-2.3,-2.3zM192.08,127.71l2.3,2.3l-2.3,2.3l-2.3,-2.3zM192.30,136.04l2.3,2.3l-2.3,2.3l-2.3,-2.3zM192.52,144.24l2.3,2.3l-2.3,2.3l-2.3,-2.3zM192.64,144.48l2.3,2.3l-2.3,2.3l-2.3,-2.3zM192.80,139.87l2.3,2.3l-2.3,2.3l-2.3,-2.3zM193.04,131.71l2.3,2.3l-2.3,2.3l-2.3,-2.3zM193.26,128.94l2.3,2.3l-2.3,2.3l-2.3,-2.3zM193.44,130.49l2.3,2.3l-2.3,2.3l-2.3,-2.3zM193.55,136.49l2.3,2.3l-2.3,2.3l-2.3,-2.3zM193.79,137.07l2.3,2.3l-2.3,2.3l-2.3,-2.3zM194.03,129.63l2.3,2.3l-2.3,2.3l-2.3,-2.3zM194.19,132.39l2.3,2.3l-2.3,2.3l-2.3,-2.3zM194.46,141.06l2.3,2.3l-2.3,2.3l-2.3,-2.3zM194.57,135.43l2.3,2.3l-2.3,2.3l-2.3,-2.3zM194.70,130.90l2.3,2.3l-2.3,2.3l-2.3,-2.3zM194.70,169.40l2.3,2.3l-2.3,2.3l-2.3,-2.3zM194.81,136.96l2.3,2.3l-2.3,2.3l-2.3,-2.3zM194.98,134.94l2.3,2.3l-2.3,2.3l-2.3,-2.3zM195.18,142.46l2.3,2.3l-2.3,2.3l-2.3,-2.3zM195.43,134.62l2.3,2.3l-2.3,2.3l-2.3,-2.3zM195.55,146.55l2.3,2.3l-2.3,2.3l-2.3,-2.3zM195.70,146.79l2.3,2.3l-2.3,2.3l-2.3,-2.3zM195.95,146.58l2.3,2.3l-2.3,2.3l-2.3,-2.3zM196.19,146.46l2.3,2.3l-2.3,2.3l-2.3,-2.3zM196.37,148.53l2.3,2.3l-2.3,2.3l-2.3,-2.3zM196.62,150.49l2.3,2.3l-2.3,2.3l-2.3,-2.3zM196.83,138.33l2.3,2.3l-2.3,2.3l-2.3,-2.3zM196.96,137.16l2.3,2.3l-2.3,2.3l-2.3,-2.3zM197.16,142.35l2.3,2.3l-2.3,2.3l-2.3,-2.3zM197.38,144.63l2.3,2.3l-2.3,2.3l-2.3,-2.3zM197.63,149.33l2.3,2.3l-2.3,2.3l-2.3,-2.3zM197.73,151.84l2.3,2.3l-2.3,2.3l-2.3,-2.3zM198.02,137.30l2.3,2.3l-2.3,2.3l-2.3,-2.3zM198.20,135.59l2.3,2.3l-2.3,2.3l-2.3,-2.3zM198.42,136.05l2.3,2.3l-2.3,2.3l-2.3,-2.3zM198.72,138.55l2.3,2.3l-2.3,2.3l-2.3,-2.3zM198.99,137.54l2.3,2.3l-2.3,2.3l-2.3,-2.3zM199.19,137.57l2.3,2.3l-2.3,2.3l-2.3,-2.3zM199.29,137.77l2.3,2.3l-2.3,2.3l-2.3,-2.3zM199.54,138.28l2.3,2.3l-2.3,2.3l-2.3,-2.3zM199.75,138.69l2.3,2.3l-2.3,2.3l-2.3,-2.3zM199.94,143.64l2.3,2.3l-2.3,2.3l-2.3,-2.3zM200.05,153.09l2.3,2.3l-2.3,2.3l-2.3,-2.3zM200.25,147.77l2.3,2.3l-2.3,2.3l-2.3,-2.3zM200.46,143.47l2.3,2.3l-2.3,2.3l-2.3,-2.3zM200.76,148.99l2.3,2.3l-2.3,2.3l-2.3,-2.3zM201.02,147.74l2.3,2.3l-2.3,2.3l-2.3,-2.3zM201.25,154.69l2.3,2.3l-2.3,2.3l-2.3,-2.3zM201.39,155.17l2.3,2.3l-2.3,2.3l-2.3,-2.3zM201.51,141.22l2.3,2.3l-2.3,2.3l-2.3,-2.3zM201.68,141.44l2.3,2.3l-2.3,2.3l-2.3,-2.3zM201.96,144.56l2.3,2.3l-2.3,2.3l-2.3,-2.3zM202.23,144.72l2.3,2.3l-2.3,2.3l-2.3,-2.3zM202.46,156.76l2.3,2.3l-2.3,2.3l-2.3,-2.3zM202.71,151.06l2.3,2.3l-2.3,2.3l-2.3,-2.3zM202.88,156.96l2.3,2.3l-2.3,2.3l-2.3,-2.3zM203.16,143.25l2.3,2.3l-2.3,2.3l-2.3,-2.3zM203.36,147.04l2.3,2.3l-2.3,2.3l-2.3,-2.3zM203.48,143.36l2.3,2.3l-2.3,2.3l-2.3,-2.3zM203.59,150.58l2.3,2.3l-2.3,2.3l-2.3,-2.3zM203.73,153.77l2.3,2.3l-2.3,2.3l-2.3,-2.3zM203.93,151.36l2.3,2.3l-2.3,2.3l-2.3,-2.3zM204.12,144.98l2.3,2.3l-2.3,2.3l-2.3,-2.3zM204.36,146.22l2.3,2.3l-2.3,2.3l-2.3,-2.3zM204.62,156.05l2.3,2.3l-2.3,2.3l-2.3,-2.3zM204.81,161.07l2.3,2.3l-2.3,2.3l-2.3,-2.3zM205.06,164.57l2.3,2.3l-2.3,2.3l-2.3,-2.3zM205.24,158.88l2.3,2.3l-2.3,2.3l-2.3,-2.3zM205.47,162.88l2.3,2.3l-2.3,2.3l-2.3,-2.3zM205.62,163.99l2.3,2.3l-2.3,2.3l-2.3,-2.3zM205.88,160.43l2.3,2.3l-2.3,2.3l-2.3,-2.3zM206.02,154.01l2.3,2.3l-2.3,2.3l-2.3,-2.3zM206.17,154.96l2.3,2.3l-2.3,2.3l-2.3,-2.3zM206.31,151.07l2.3,2.3l-2.3,2.3l-2.3,-2.3zM206.42,154.21l2.3,2.3l-2.3,2.3l-2.3,-2.3zM206.54,157.45l2.3,2.3l-2.3,2.3l-2.3,-2.3zM206.66,162.27l2.3,2.3l-2.3,2.3l-2.3,-2.3zM206.77,151.84l2.3,2.3l-2.3,2.3l-2.3,-2.3zM207.02,153.80l2.3,2.3l-2.3,2.3l-2.3,-2.3zM207.14,147.24l2.3,2.3l-2.3,2.3l-2.3,-2.3zM207.25,152.72l2.3,2.3l-2.3,2.3l-2.3,-2.3zM207.50,126.50l2.3,2.3l-2.3,2.3l-2.3,-2.3zM207.56,152.11l2.3,2.3l-2.3,2.3l-2.3,-2.3zM207.76,154.14l2.3,2.3l-2.3,2.3l-2.3,-2.3zM207.90,147.60l2.3,2.3l-2.3,2.3l-2.3,-2.3zM208.03,143.69l2.3,2.3l-2.3,2.3l-2.3,-2.3zM208.15,145.09l2.3,2.3l-2.3,2.3l-2.3,-2.3zM208.42,140.76l2.3,2.3l-2.3,2.3l-2.3,-2.3zM208.62,149.17l2.3,2.3l-2.3,2.3l-2.3,-2.3zM208.78,146.26l2.3,2.3l-2.3,2.3l-2.3,-2.3zM208.95,150.78l2.3,2.3l-2.3,2.3l-2.3,-2.3zM209.12,140.26l2.3,2.3l-2.3,2.3l-2.3,-2.3zM209.25,136.11l2.3,2.3l-2.3,2.3l-2.3,-2.3zM209.48,135.73l2.3,2.3l-2.3,2.3l-2.3,-2.3zM209.59,135.55l2.3,2.3l-2.3,2.3l-2.3,-2.3zM209.73,140.44l2.3,2.3l-2.3,2.3l-2.3,-2.3zM209.85,152.53l2.3,2.3l-2.3,2.3l-2.3,-2.3zM210.15,153.10l2.3,2.3l-2.3,2.3l-2.3,-2.3zM210.30,157.37l2.3,2.3l-2.3,2.3l-2.3,-2.3zM210.57,151.37l2.3,2.3l-2.3,2.3l-2.3,-2.3zM210.88,150.22l2.3,2.3l-2.3,2.3l-2.3,-2.3zM211.05,147.12l2.3,2.3l-2.3,2.3l-2.3,-2.3zM211.29,148.61l2.3,2.3l-2.3,2.3l-2.3,-2.3zM211.46,145.61l2.3,2.3l-2.3,2.3l-2.3,-2.3zM211.75,149.73l2.3,2.3l-2.3,2.3l-2.3,-2.3zM211.93,151.53l2.3,2.3l-2.3,2.3l-2.3,-2.3zM212.18,151.68l2.3,2.3l-2.3,2.3l-2.3,-2.3zM212.45,145.90l2.3,2.3l-2.3,2.3l-2.3,-2.3zM212.72,148.57l2.3,2.3l-2.3,2.3l-2.3,-2.3zM213.03,138.13l2.3,2.3l-2.3,2.3l-2.3,-2.3zM213.21,135.09l2.3,2.3l-2.3,2.3l-2.3,-2.3zM213.49,139.68l2.3,2.3l-2.3,2.3l-2.3,-2.3zM213.71,139.38l2.3,2.3l-2.3,2.3l-2.3,-2.3zM213.97,143.50l2.3,2.3l-2.3,2.3l-2.3,-2.3zM214.21,140.23l2.3,2.3l-2.3,2.3l-2.3,-2.3zM214.43,133.48l2.3,2.3l-2.3,2.3l-2.3,-2.3zM214.57,135.37l2.3,2.3l-2.3,2.3l-2.3,-2.3zM214.79,135.29l2.3,2.3l-2.3,2.3l-2.3,-2.3zM215.06,135.13l2.3,2.3l-2.3,2.3l-2.3,-2.3zM215.22,133.77l2.3,2.3l-2.3,2.3l-2.3,-2.3zM215.52,127.68l2.3,2.3l-2.3,2.3l-2.3,-2.3zM215.82,127.38l2.3,2.3l-2.3,2.3l-2.3,-2.3zM216.03,135.95l2.3,2.3l-2.3,2.3l-2.3,-2.3zM216.21,130.09l2.3,2.3l-2.3,2.3l-2.3,-2.3zM216.41,138.93l2.3,2.3l-2.3,2.3l-2.3,-2.3zM216.73,141.02l2.3,2.3l-2.3,2.3l-2.3,-2.3zM216.86,136.48l2.3,2.3l-2.3,2.3l-2.3,-2.3zM216.99,135.28l2.3,2.3l-2.3,2.3l-2.3,-2.3zM217.25,135.87l2.3,2.3l-2.3,2.3l-2.3,-2.3zM217.39,138.23l2.3,2.3l-2.3,2.3l-2.3,-2.3zM217.65,136.51l2.3,2.3l-2.3,2.3l-2.3,-2.3zM217.81,135.82l2.3,2.3l-2.3,2.3l-2.3,-2.3zM218.14,137.36l2.3,2.3l-2.3,2.3l-2.3,-2.3zM218.34,145.21l2.3,2.3l-2.3,2.3l-2.3,-2.3zM218.63,131.75l2.3,2.3l-2.3,2.3l-2.3,-2.3zM218.86,125.76l2.3,2.3l-2.3,2.3l-2.3,-2.3zM219.02,130.70l2.3,2.3l-2.3,2.3l-2.3,-2.3zM219.31,134.77l2.3,2.3l-2.3,2.3l-2.3,-2.3zM219.45,146.08l2.3,2.3l-2.3,2.3l-2.3,-2.3zM219.61,145.97l2.3,2.3l-2.3,2.3l-2.3,-2.3zM219.92,145.75l2.3,2.3l-2.3,2.3l-2.3,-2.3zM220.09,145.61l2.3,2.3l-2.3,2.3l-2.3,-2.3zM220.39,134.29l2.3,2.3l-2.3,2.3l-2.3,-2.3zM220.67,127.34l2.3,2.3l-2.3,2.3l-2.3,-2.3zM220.98,124.26l2.3,2.3l-2.3,2.3l-2.3,-2.3zM221.20,135.48l2.3,2.3l-2.3,2.3l-2.3,-2.3zM221.34,139.20l2.3,2.3l-2.3,2.3l-2.3,-2.3zM221.64,128.47l2.3,2.3l-2.3,2.3l-2.3,-2.3zM221.80,122.55l2.3,2.3l-2.3,2.3l-2.3,-2.3zM222.08,124.43l2.3,2.3l-2.3,2.3l-2.3,-2.3zM222.21,122.95l2.3,2.3l-2.3,2.3l-2.3,-2.3zM222.34,133.09l2.3,2.3l-2.3,2.3l-2.3,-2.3zM222.58,131.79l2.3,2.3l-2.3,2.3l-2.3,-2.3zM222.84,124.33l2.3,2.3l-2.3,2.3l-2.3,-2.3zM223.10,128.42l2.3,2.3l-2.3,2.3l-2.3,-2.3zM223.44,135.52l2.3,2.3l-2.3,2.3l-2.3,-2.3zM223.63,130.89l2.3,2.3l-2.3,2.3l-2.3,-2.3zM223.80,131.92l2.3,2.3l-2.3,2.3l-2.3,-2.3zM223.95,141.37l2.3,2.3l-2.3,2.3l-2.3,-2.3zM224.27,132.02l2.3,2.3l-2.3,2.3l-2.3,-2.3zM224.61,118.73l2.3,2.3l-2.3,2.3l-2.3,-2.3zM224.85,118.35l2.3,2.3l-2.3,2.3l-2.3,-2.3zM225.06,133.33l2.3,2.3l-2.3,2.3l-2.3,-2.3zM225.40,126.62l2.3,2.3l-2.3,2.3l-2.3,-2.3zM225.63,128.40l2.3,2.3l-2.3,2.3l-2.3,-2.3zM225.98,121.22l2.3,2.3l-2.3,2.3l-2.3,-2.3zM226.31,119.57l2.3,2.3l-2.3,2.3l-2.3,-2.3zM226.47,138.43l2.3,2.3l-2.3,2.3l-2.3,-2.3zM226.61,133.11l2.3,2.3l-2.3,2.3l-2.3,-2.3zM226.85,125.07l2.3,2.3l-2.3,2.3l-2.3,-2.3zM227.11,136.89l2.3,2.3l-2.3,2.3l-2.3,-2.3zM227.30,135.78l2.3,2.3l-2.3,2.3l-2.3,-2.3zM227.52,125.71l2.3,2.3l-2.3,2.3l-2.3,-2.3zM227.81,135.34l2.3,2.3l-2.3,2.3l-2.3,-2.3zM227.99,136.33l2.3,2.3l-2.3,2.3l-2.3,-2.3zM228.21,135.70l2.3,2.3l-2.3,2.3l-2.3,-2.3zM228.35,137.35l2.3,2.3l-2.3,2.3l-2.3,-2.3zM228.63,137.07l2.3,2.3l-2.3,2.3l-2.3,-2.3zM228.98,136.72l2.3,2.3l-2.3,2.3l-2.3,-2.3zM229.19,136.51l2.3,2.3l-2.3,2.3l-2.3,-2.3zM229.34,129.83l2.3,2.3l-2.3,2.3l-2.3,-2.3zM229.59,134.84l2.3,2.3l-2.3,2.3l-2.3,-2.3zM229.83,121.99l2.3,2.3l-2.3,2.3l-2.3,-2.3zM230.02,133.31l2.3,2.3l-2.3,2.3l-2.3,-2.3zM230.25,135.52l2.3,2.3l-2.3,2.3l-2.3,-2.3zM230.44,124.86l2.3,2.3l-2.3,2.3l-2.3,-2.3zM230.62,124.80l2.3,2.3l-2.3,2.3l-2.3,-2.3zM230.77,123.47l2.3,2.3l-2.3,2.3l-2.3,-2.3zM231.02,119.43l2.3,2.3l-2.3,2.3l-2.3,-2.3zM231.15,120.14l2.3,2.3l-2.3,2.3l-2.3,-2.3zM231.32,122.41l2.3,2.3l-2.3,2.3l-2.3,-2.3zM231.67,114.96l2.3,2.3l-2.3,2.3l-2.3,-2.3zM231.98,119.92l2.3,2.3l-2.3,2.3l-2.3,-2.3zM232.15,120.84l2.3,2.3l-2.3,2.3l-2.3,-2.3zM232.27,115.91l2.3,2.3l-2.3,2.3l-2.3,-2.3zM232.40,121.20l2.3,2.3l-2.3,2.3l-2.3,-2.3zM232.65,126.63l2.3,2.3l-2.3,2.3l-2.3,-2.3zM232.84,128.22l2.3,2.3l-2.3,2.3l-2.3,-2.3zM233.15,121.07l2.3,2.3l-2.3,2.3l-2.3,-2.3zM233.28,124.10l2.3,2.3l-2.3,2.3l-2.3,-2.3zM233.51,116.01l2.3,2.3l-2.3,2.3l-2.3,-2.3zM233.85,110.80l2.3,2.3l-2.3,2.3l-2.3,-2.3zM234.17,115.06l2.3,2.3l-2.3,2.3l-2.3,-2.3zM234.48,121.18l2.3,2.3l-2.3,2.3l-2.3,-2.3zM234.79,110.04l2.3,2.3l-2.3,2.3l-2.3,-2.3zM235.05,112.41l2.3,2.3l-2.3,2.3l-2.3,-2.3zM235.24,116.07l2.3,2.3l-2.3,2.3l-2.3,-2.3zM235.52,118.43l2.3,2.3l-2.3,2.3l-2.3,-2.3zM235.86,124.78l2.3,2.3l-2.3,2.3l-2.3,-2.3zM236.15,117.75l2.3,2.3l-2.3,2.3l-2.3,-2.3zM236.50,121.10l2.3,2.3l-2.3,2.3l-2.3,-2.3zM236.72,110.88l2.3,2.3l-2.3,2.3l-2.3,-2.3zM236.98,115.15l2.3,2.3l-2.3,2.3l-2.3,-2.3zM237.27,119.18l2.3,2.3l-2.3,2.3l-2.3,-2.3zM237.64,110.68l2.3,2.3l-2.3,2.3l-2.3,-2.3zM237.80,131.50l2.3,2.3l-2.3,2.3l-2.3,-2.3zM237.85,110.27l2.3,2.3l-2.3,2.3l-2.3,-2.3zM238.09,114.29l2.3,2.3l-2.3,2.3l-2.3,-2.3zM238.45,106.72l2.3,2.3l-2.3,2.3l-2.3,-2.3zM238.61,106.09l2.3,2.3l-2.3,2.3l-2.3,-2.3zM238.84,116.37l2.3,2.3l-2.3,2.3l-2.3,-2.3zM239.18,121.93l2.3,2.3l-2.3,2.3l-2.3,-2.3zM239.45,103.72l2.3,2.3l-2.3,2.3l-2.3,-2.3zM239.59,100.82l2.3,2.3l-2.3,2.3l-2.3,-2.3zM239.83,100.33l2.3,2.3l-2.3,2.3l-2.3,-2.3zM240.03,100.34l2.3,2.3l-2.3,2.3l-2.3,-2.3zM240.18,99.83l2.3,2.3l-2.3,2.3l-2.3,-2.3zM240.47,99.54l2.3,2.3l-2.3,2.3l-2.3,-2.3zM240.83,105.19l2.3,2.3l-2.3,2.3l-2.3,-2.3zM241.19,104.03l2.3,2.3l-2.3,2.3l-2.3,-2.3zM241.55,102.47l2.3,2.3l-2.3,2.3l-2.3,-2.3zM241.72,98.34l2.3,2.3l-2.3,2.3l-2.3,-2.3zM241.93,109.15l2.3,2.3l-2.3,2.3l-2.3,-2.3zM242.13,119.22l2.3,2.3l-2.3,2.3l-2.3,-2.3zM242.33,112.54l2.3,2.3l-2.3,2.3l-2.3,-2.3zM242.56,109.90l2.3,2.3l-2.3,2.3l-2.3,-2.3zM242.75,112.30l2.3,2.3l-2.3,2.3l-2.3,-2.3zM243.13,114.12l2.3,2.3l-2.3,2.3l-2.3,-2.3zM243.31,113.42l2.3,2.3l-2.3,2.3l-2.3,-2.3zM243.45,100.40l2.3,2.3l-2.3,2.3l-2.3,-2.3zM243.80,100.96l2.3,2.3l-2.3,2.3l-2.3,-2.3zM244.09,103.17l2.3,2.3l-2.3,2.3l-2.3,-2.3zM244.29,103.60l2.3,2.3l-2.3,2.3l-2.3,-2.3zM244.66,108.58l2.3,2.3l-2.3,2.3l-2.3,-2.3zM244.91,109.14l2.3,2.3l-2.3,2.3l-2.3,-2.3zM245.11,105.55l2.3,2.3l-2.3,2.3l-2.3,-2.3zM245.30,104.62l2.3,2.3l-2.3,2.3l-2.3,-2.3zM245.68,112.49l2.3,2.3l-2.3,2.3l-2.3,-2.3zM245.85,114.18l2.3,2.3l-2.3,2.3l-2.3,-2.3zM246.24,108.98l2.3,2.3l-2.3,2.3l-2.3,-2.3zM246.40,99.03l2.3,2.3l-2.3,2.3l-2.3,-2.3zM246.55,100.99l2.3,2.3l-2.3,2.3l-2.3,-2.3zM246.73,98.11l2.3,2.3l-2.3,2.3l-2.3,-2.3zM247.07,101.21l2.3,2.3l-2.3,2.3l-2.3,-2.3zM247.45,100.22l2.3,2.3l-2.3,2.3l-2.3,-2.3zM247.72,98.83l2.3,2.3l-2.3,2.3l-2.3,-2.3zM247.95,101.88l2.3,2.3l-2.3,2.3l-2.3,-2.3zM248.34,100.97l2.3,2.3l-2.3,2.3l-2.3,-2.3zM248.51,104.12l2.3,2.3l-2.3,2.3l-2.3,-2.3zM248.67,95.16l2.3,2.3l-2.3,2.3l-2.3,-2.3zM248.82,107.78l2.3,2.3l-2.3,2.3l-2.3,-2.3zM249.00,110.39l2.3,2.3l-2.3,2.3l-2.3,-2.3zM249.39,106.55l2.3,2.3l-2.3,2.3l-2.3,-2.3zM249.59,95.37l2.3,2.3l-2.3,2.3l-2.3,-2.3zM249.85,108.22l2.3,2.3l-2.3,2.3l-2.3,-2.3zM250.17,104.20l2.3,2.3l-2.3,2.3l-2.3,-2.3zM250.39,103.33l2.3,2.3l-2.3,2.3l-2.3,-2.3zM250.72,103.02l2.3,2.3l-2.3,2.3l-2.3,-2.3zM250.97,93.74l2.3,2.3l-2.3,2.3l-2.3,-2.3zM251.25,88.95l2.3,2.3l-2.3,2.3l-2.3,-2.3zM251.60,94.83l2.3,2.3l-2.3,2.3l-2.3,-2.3zM251.79,88.20l2.3,2.3l-2.3,2.3l-2.3,-2.3zM252.15,87.69l2.3,2.3l-2.3,2.3l-2.3,-2.3zM252.33,99.22l2.3,2.3l-2.3,2.3l-2.3,-2.3zM252.51,95.65l2.3,2.3l-2.3,2.3l-2.3,-2.3zM252.71,96.73l2.3,2.3l-2.3,2.3l-2.3,-2.3zM253.11,98.51l2.3,2.3l-2.3,2.3l-2.3,-2.3zM253.35,99.78l2.3,2.3l-2.3,2.3l-2.3,-2.3zM253.49,96.04l2.3,2.3l-2.3,2.3l-2.3,-2.3zM253.86,101.33l2.3,2.3l-2.3,2.3l-2.3,-2.3zM254.17,84.86l2.3,2.3l-2.3,2.3l-2.3,-2.3zM254.45,85.67l2.3,2.3l-2.3,2.3l-2.3,-2.3zM254.73,86.24l2.3,2.3l-2.3,2.3l-2.3,-2.3zM254.98,95.07l2.3,2.3l-2.3,2.3l-2.3,-2.3zM255.21,102.15l2.3,2.3l-2.3,2.3l-2.3,-2.3zM255.48,94.86l2.3,2.3l-2.3,2.3l-2.3,-2.3zM255.71,98.77l2.3,2.3l-2.3,2.3l-2.3,-2.3zM256.01,104.95l2.3,2.3l-2.3,2.3l-2.3,-2.3zM256.38,102.79l2.3,2.3l-2.3,2.3l-2.3,-2.3zM256.74,95.03l2.3,2.3l-2.3,2.3l-2.3,-2.3zM256.95,104.06l2.3,2.3l-2.3,2.3l-2.3,-2.3zM257.12,93.96l2.3,2.3l-2.3,2.3l-2.3,-2.3zM257.35,93.68l2.3,2.3l-2.3,2.3l-2.3,-2.3zM257.67,90.24l2.3,2.3l-2.3,2.3l-2.3,-2.3zM257.93,103.15l2.3,2.3l-2.3,2.3l-2.3,-2.3zM258.19,89.23l2.3,2.3l-2.3,2.3l-2.3,-2.3zM258.60,88.26l2.3,2.3l-2.3,2.3l-2.3,-2.3zM258.88,83.31l2.3,2.3l-2.3,2.3l-2.3,-2.3zM259.04,89.44l2.3,2.3l-2.3,2.3l-2.3,-2.3zM259.30,96.33l2.3,2.3l-2.3,2.3l-2.3,-2.3zM259.45,86.67l2.3,2.3l-2.3,2.3l-2.3,-2.3zM259.82,83.22l2.3,2.3l-2.3,2.3l-2.3,-2.3zM260.06,93.56l2.3,2.3l-2.3,2.3l-2.3,-2.3zM260.26,83.20l2.3,2.3l-2.3,2.3l-2.3,-2.3zM260.52,83.20l2.3,2.3l-2.3,2.3l-2.3,-2.3zM260.90,85.19l2.3,2.3l-2.3,2.3l-2.3,-2.3zM261.12,83.20l2.3,2.3l-2.3,2.3l-2.3,-2.3zM261.40,83.20l2.3,2.3l-2.3,2.3l-2.3,-2.3zM261.72,89.32l2.3,2.3l-2.3,2.3l-2.3,-2.3zM262.10,87.75l2.3,2.3l-2.3,2.3l-2.3,-2.3zM262.31,87.90l2.3,2.3l-2.3,2.3l-2.3,-2.3zM262.55,87.29l2.3,2.3l-2.3,2.3l-2.3,-2.3zM262.71,87.20l2.3,2.3l-2.3,2.3l-2.3,-2.3zM262.94,88.81l2.3,2.3l-2.3,2.3l-2.3,-2.3zM263.23,91.30l2.3,2.3l-2.3,2.3l-2.3,-2.3zM263.63,83.20l2.3,2.3l-2.3,2.3l-2.3,-2.3zM264.01,84.67l2.3,2.3l-2.3,2.3l-2.3,-2.3zM264.38,92.36l2.3,2.3l-2.3,2.3l-2.3,-2.3zM264.72,89.14l2.3,2.3l-2.3,2.3l-2.3,-2.3zM264.89,93.88l2.3,2.3l-2.3,2.3l-2.3,-2.3zM265.17,89.49l2.3,2.3l-2.3,2.3l-2.3,-2.3zM265.56,89.52l2.3,2.3l-2.3,2.3l-2.3,-2.3zM265.94,93.52l2.3,2.3l-2.3,2.3l-2.3,-2.3zM266.25,93.69l2.3,2.3l-2.3,2.3l-2.3,-2.3zM266.49,93.35l2.3,2.3l-2.3,2.3l-2.3,-2.3zM266.64,94.12l2.3,2.3l-2.3,2.3l-2.3,-2.3zM266.86,90.20l2.3,2.3l-2.3,2.3l-2.3,-2.3zM267.11,85.33l2.3,2.3l-2.3,2.3l-2.3,-2.3zM267.44,87.29l2.3,2.3l-2.3,2.3l-2.3,-2.3zM267.77,86.78l2.3,2.3l-2.3,2.3l-2.3,-2.3zM268.19,89.32l2.3,2.3l-2.3,2.3l-2.3,-2.3zM268.53,94.44l2.3,2.3l-2.3,2.3l-2.3,-2.3zM268.90,95.54l2.3,2.3l-2.3,2.3l-2.3,-2.3zM269.33,94.17l2.3,2.3l-2.3,2.3l-2.3,-2.3zM269.61,93.02l2.3,2.3l-2.3,2.3l-2.3,-2.3zM269.88,98.25l2.3,2.3l-2.3,2.3l-2.3,-2.3zM270.12,90.20l2.3,2.3l-2.3,2.3l-2.3,-2.3zM270.38,82.89l2.3,2.3l-2.3,2.3l-2.3,-2.3zM270.59,82.73l2.3,2.3l-2.3,2.3l-2.3,-2.3zM270.84,89.93l2.3,2.3l-2.3,2.3l-2.3,-2.3zM271.00,93.62l2.3,2.3l-2.3,2.3l-2.3,-2.3zM271.42,85.78l2.3,2.3l-2.3,2.3l-2.3,-2.3zM271.59,86.41l2.3,2.3l-2.3,2.3l-2.3,-2.3zM271.80,81.76l2.3,2.3l-2.3,2.3l-2.3,-2.3zM272.10,84.48l2.3,2.3l-2.3,2.3l-2.3,-2.3zM272.33,93.78l2.3,2.3l-2.3,2.3l-2.3,-2.3zM272.63,91.12l2.3,2.3l-2.3,2.3l-2.3,-2.3zM272.84,87.02l2.3,2.3l-2.3,2.3l-2.3,-2.3zM273.03,97.59l2.3,2.3l-2.3,2.3l-2.3,-2.3zM273.33,91.06l2.3,2.3l-2.3,2.3l-2.3,-2.3zM273.70,86.68l2.3,2.3l-2.3,2.3l-2.3,-2.3zM274.12,92.83l2.3,2.3l-2.3,2.3l-2.3,-2.3zM274.32,84.15l2.3,2.3l-2.3,2.3l-2.3,-2.3zM274.49,81.51l2.3,2.3l-2.3,2.3l-2.3,-2.3zM274.70,86.10l2.3,2.3l-2.3,2.3l-2.3,-2.3zM275.10,88.98l2.3,2.3l-2.3,2.3l-2.3,-2.3zM275.53,97.04l2.3,2.3l-2.3,2.3l-2.3,-2.3zM275.71,96.99l2.3,2.3l-2.3,2.3l-2.3,-2.3zM275.92,91.65l2.3,2.3l-2.3,2.3l-2.3,-2.3zM276.13,96.46l2.3,2.3l-2.3,2.3l-2.3,-2.3zM276.39,94.43l2.3,2.3l-2.3,2.3l-2.3,-2.3zM276.79,92.54l2.3,2.3l-2.3,2.3l-2.3,-2.3zM277.06,88.74l2.3,2.3l-2.3,2.3l-2.3,-2.3zM277.33,89.98l2.3,2.3l-2.3,2.3l-2.3,-2.3zM277.56,92.70l2.3,2.3l-2.3,2.3l-2.3,-2.3zM277.91,88.87l2.3,2.3l-2.3,2.3l-2.3,-2.3zM278.13,90.40l2.3,2.3l-2.3,2.3l-2.3,-2.3zM278.41,84.95l2.3,2.3l-2.3,2.3l-2.3,-2.3zM278.77,83.84l2.3,2.3l-2.3,2.3l-2.3,-2.3zM278.99,81.10l2.3,2.3l-2.3,2.3l-2.3,-2.3zM279.19,77.10l2.3,2.3l-2.3,2.3l-2.3,-2.3zM279.57,76.91l2.3,2.3l-2.3,2.3l-2.3,-2.3zM279.90,83.56l2.3,2.3l-2.3,2.3l-2.3,-2.3zM280.24,82.64l2.3,2.3l-2.3,2.3l-2.3,-2.3zM280.63,84.58l2.3,2.3l-2.3,2.3l-2.3,-2.3zM281.05,77.37l2.3,2.3l-2.3,2.3l-2.3,-2.3zM281.28,81.12l2.3,2.3l-2.3,2.3l-2.3,-2.3zM281.71,81.19l2.3,2.3l-2.3,2.3l-2.3,-2.3zM282.11,79.05l2.3,2.3l-2.3,2.3l-2.3,-2.3zM282.56,75.93l2.3,2.3l-2.3,2.3l-2.3,-2.3zM282.86,91.82l2.3,2.3l-2.3,2.3l-2.3,-2.3zM283.07,87.96l2.3,2.3l-2.3,2.3l-2.3,-2.3zM283.45,81.59l2.3,2.3l-2.3,2.3l-2.3,-2.3zM283.78,88.12l2.3,2.3l-2.3,2.3l-2.3,-2.3zM284.20,90.86l2.3,2.3l-2.3,2.3l-2.3,-2.3zM284.50,77.42l2.3,2.3l-2.3,2.3l-2.3,-2.3zM284.79,77.40l2.3,2.3l-2.3,2.3l-2.3,-2.3zM285.10,75.18l2.3,2.3l-2.3,2.3l-2.3,-2.3zM285.32,75.14l2.3,2.3l-2.3,2.3l-2.3,-2.3zM285.50,76.80l2.3,2.3l-2.3,2.3l-2.3,-2.3zM285.75,75.05l2.3,2.3l-2.3,2.3l-2.3,-2.3zM286.18,82.28l2.3,2.3l-2.3,2.3l-2.3,-2.3zM286.65,78.27l2.3,2.3l-2.3,2.3l-2.3,-2.3zM287.06,80.35l2.3,2.3l-2.3,2.3l-2.3,-2.3zM287.22,77.10l2.3,2.3l-2.3,2.3l-2.3,-2.3zM287.59,79.18l2.3,2.3l-2.3,2.3l-2.3,-2.3zM287.90,75.81l2.3,2.3l-2.3,2.3l-2.3,-2.3zM288.23,78.83l2.3,2.3l-2.3,2.3l-2.3,-2.3zM288.56,89.07l2.3,2.3l-2.3,2.3l-2.3,-2.3zM288.84,92.09l2.3,2.3l-2.3,2.3l-2.3,-2.3zM289.10,92.13l2.3,2.3l-2.3,2.3l-2.3,-2.3zM289.49,91.52l2.3,2.3l-2.3,2.3l-2.3,-2.3zM289.71,91.98l2.3,2.3l-2.3,2.3l-2.3,-2.3zM289.99,86.65l2.3,2.3l-2.3,2.3l-2.3,-2.3zM290.17,83.97l2.3,2.3l-2.3,2.3l-2.3,-2.3zM290.48,85.43l2.3,2.3l-2.3,2.3l-2.3,-2.3zM290.69,90.49l2.3,2.3l-2.3,2.3l-2.3,-2.3zM290.88,75.47l2.3,2.3l-2.3,2.3l-2.3,-2.3zM291.31,75.45l2.3,2.3l-2.3,2.3l-2.3,-2.3zM291.64,76.69l2.3,2.3l-2.3,2.3l-2.3,-2.3zM291.88,80.19l2.3,2.3l-2.3,2.3l-2.3,-2.3zM292.14,83.56l2.3,2.3l-2.3,2.3l-2.3,-2.3zM292.61,82.04l2.3,2.3l-2.3,2.3l-2.3,-2.3zM292.92,78.28l2.3,2.3l-2.3,2.3l-2.3,-2.3zM293.39,81.42l2.3,2.3l-2.3,2.3l-2.3,-2.3zM293.61,75.95l2.3,2.3l-2.3,2.3l-2.3,-2.3zM293.83,75.61l2.3,2.3l-2.3,2.3l-2.3,-2.3zM294.06,87.40l2.3,2.3l-2.3,2.3l-2.3,-2.3zM294.46,84.25l2.3,2.3l-2.3,2.3l-2.3,-2.3zM294.91,89.81l2.3,2.3l-2.3,2.3l-2.3,-2.3zM295.31,90.33l2.3,2.3l-2.3,2.3l-2.3,-2.3zM295.55,73.49l2.3,2.3l-2.3,2.3l-2.3,-2.3zM295.82,80.61l2.3,2.3l-2.3,2.3l-2.3,-2.3zM296.22,85.18l2.3,2.3l-2.3,2.3l-2.3,-2.3zM296.47,90.79l2.3,2.3l-2.3,2.3l-2.3,-2.3zM296.80,79.16l2.3,2.3l-2.3,2.3l-2.3,-2.3zM297.21,88.62l2.3,2.3l-2.3,2.3l-2.3,-2.3zM297.53,83.36l2.3,2.3l-2.3,2.3l-2.3,-2.3zM297.96,76.59l2.3,2.3l-2.3,2.3l-2.3,-2.3zM298.21,71.28l2.3,2.3l-2.3,2.3l-2.3,-2.3zM298.50,72.45l2.3,2.3l-2.3,2.3l-2.3,-2.3zM298.68,80.33l2.3,2.3l-2.3,2.3l-2.3,-2.3zM298.91,88.76l2.3,2.3l-2.3,2.3l-2.3,-2.3zM299.32,70.61l2.3,2.3l-2.3,2.3l-2.3,-2.3zM299.76,73.57l2.3,2.3l-2.3,2.3l-2.3,-2.3zM300.00,65.60l2.3,2.3l-2.3,2.3l-2.3,-2.3zM300.17,75.09l2.3,2.3l-2.3,2.3l-2.3,-2.3zM300.52,78.82l2.3,2.3l-2.3,2.3l-2.3,-2.3zM300.93,83.55l2.3,2.3l-2.3,2.3l-2.3,-2.3zM301.15,80.22l2.3,2.3l-2.3,2.3l-2.3,-2.3zM301.40,95.90l2.3,2.3l-2.3,2.3l-2.3,-2.3zM301.64,79.73l2.3,2.3l-2.3,2.3l-2.3,-2.3zM302.05,72.11l2.3,2.3l-2.3,2.3l-2.3,-2.3zM302.26,69.29l2.3,2.3l-2.3,2.3l-2.3,-2.3zM302.63,69.15l2.3,2.3l-2.3,2.3l-2.3,-2.3zM302.85,79.38l2.3,2.3l-2.3,2.3l-2.3,-2.3zM303.31,86.72l2.3,2.3l-2.3,2.3l-2.3,-2.3zM303.52,86.76l2.3,2.3l-2.3,2.3l-2.3,-2.3zM303.95,83.97l2.3,2.3l-2.3,2.3l-2.3,-2.3zM304.25,68.50l2.3,2.3l-2.3,2.3l-2.3,-2.3zM304.62,74.37l2.3,2.3l-2.3,2.3l-2.3,-2.3zM304.88,76.17l2.3,2.3l-2.3,2.3l-2.3,-2.3zM305.14,76.99l2.3,2.3l-2.3,2.3l-2.3,-2.3zM305.55,78.80l2.3,2.3l-2.3,2.3l-2.3,-2.3zM305.89,80.61l2.3,2.3l-2.3,2.3l-2.3,-2.3zM306.17,83.28l2.3,2.3l-2.3,2.3l-2.3,-2.3zM306.20,61.40l2.3,2.3l-2.3,2.3l-2.3,-2.3zM306.61,81.20l2.3,2.3l-2.3,2.3l-2.3,-2.3zM306.91,83.10l2.3,2.3l-2.3,2.3l-2.3,-2.3zM307.31,74.59l2.3,2.3l-2.3,2.3l-2.3,-2.3zM307.59,77.79l2.3,2.3l-2.3,2.3l-2.3,-2.3zM308.03,86.11l2.3,2.3l-2.3,2.3l-2.3,-2.3zM308.32,84.44l2.3,2.3l-2.3,2.3l-2.3,-2.3zM308.52,89.76l2.3,2.3l-2.3,2.3l-2.3,-2.3zM308.80,77.81l2.3,2.3l-2.3,2.3l-2.3,-2.3zM309.17,74.65l2.3,2.3l-2.3,2.3l-2.3,-2.3zM309.44,78.30l2.3,2.3l-2.3,2.3l-2.3,-2.3zM309.73,79.14l2.3,2.3l-2.3,2.3l-2.3,-2.3zM309.97,74.33l2.3,2.3l-2.3,2.3l-2.3,-2.3zM310.40,74.28l2.3,2.3l-2.3,2.3l-2.3,-2.3zM310.50,157.50l2.3,2.3l-2.3,2.3l-2.3,-2.3zM310.78,70.66l2.3,2.3l-2.3,2.3l-2.3,-2.3zM311.13,68.76l2.3,2.3l-2.3,2.3l-2.3,-2.3zM311.40,65.00l2.3,2.3l-2.3,2.3l-2.3,-2.3zM311.45,70.18l2.3,2.3l-2.3,2.3l-2.3,-2.3zM311.89,76.49l2.3,2.3l-2.3,2.3l-2.3,-2.3zM312.24,90.21l2.3,2.3l-2.3,2.3l-2.3,-2.3zM312.61,90.72l2.3,2.3l-2.3,2.3l-2.3,-2.3zM313.00,85.81l2.3,2.3l-2.3,2.3l-2.3,-2.3zM313.52,84.80l2.3,2.3l-2.3,2.3l-2.3,-2.3zM313.76,70.08l2.3,2.3l-2.3,2.3l-2.3,-2.3zM313.97,90.13l2.3,2.3l-2.3,2.3l-2.3,-2.3zM314.32,81.57l2.3,2.3l-2.3,2.3l-2.3,-2.3zM314.82,81.72l2.3,2.3l-2.3,2.3l-2.3,-2.3zM315.14,88.07l2.3,2.3l-2.3,2.3l-2.3,-2.3zM315.20,70.10l2.3,2.3l-2.3,2.3l-2.3,-2.3zM315.31,85.68l2.3,2.3l-2.3,2.3l-2.3,-2.3zM315.74,90.50l2.3,2.3l-2.3,2.3l-2.3,-2.3zM315.93,79.00l2.3,2.3l-2.3,2.3l-2.3,-2.3zM316.34,78.21l2.3,2.3l-2.3,2.3l-2.3,-2.3zM316.62,85.73l2.3,2.3l-2.3,2.3l-2.3,-2.3zM316.91,89.51l2.3,2.3l-2.3,2.3l-2.3,-2.3zM317.11,91.05l2.3,2.3l-2.3,2.3l-2.3,-2.3zM317.63,91.25l2.3,2.3l-2.3,2.3l-2.3,-2.3zM317.88,91.35l2.3,2.3l-2.3,2.3l-2.3,-2.3zM318.08,91.43l2.3,2.3l-2.3,2.3l-2.3,-2.3zM318.40,96.30l2.3,2.3l-2.3,2.3l-2.3,-2.3zM318.53,82.60l2.3,2.3l-2.3,2.3l-2.3,-2.3zM318.89,82.04l2.3,2.3l-2.3,2.3l-2.3,-2.3zM319.31,81.85l2.3,2.3l-2.3,2.3l-2.3,-2.3zM319.67,83.73l2.3,2.3l-2.3,2.3l-2.3,-2.3zM319.87,84.21l2.3,2.3l-2.3,2.3l-2.3,-2.3zM320.29,88.96l2.3,2.3l-2.3,2.3l-2.3,-2.3zM320.72,85.77l2.3,2.3l-2.3,2.3l-2.3,-2.3zM321.10,82.24l2.3,2.3l-2.3,2.3l-2.3,-2.3zM321.49,87.10l2.3,2.3l-2.3,2.3l-2.3,-2.3zM321.68,84.48l2.3,2.3l-2.3,2.3l-2.3,-2.3zM321.95,92.09l2.3,2.3l-2.3,2.3l-2.3,-2.3zM322.30,89.99l2.3,2.3l-2.3,2.3l-2.3,-2.3zM322.72,93.09l2.3,2.3l-2.3,2.3l-2.3,-2.3zM323.17,94.48l2.3,2.3l-2.3,2.3l-2.3,-2.3zM323.42,91.36l2.3,2.3l-2.3,2.3l-2.3,-2.3zM323.72,93.08l2.3,2.3l-2.3,2.3l-2.3,-2.3zM324.11,92.46l2.3,2.3l-2.3,2.3l-2.3,-2.3zM324.52,91.25l2.3,2.3l-2.3,2.3l-2.3,-2.3zM324.73,93.02l2.3,2.3l-2.3,2.3l-2.3,-2.3zM324.98,88.30l2.3,2.3l-2.3,2.3l-2.3,-2.3zM325.48,88.53l2.3,2.3l-2.3,2.3l-2.3,-2.3zM325.87,86.27l2.3,2.3l-2.3,2.3l-2.3,-2.3zM326.07,91.11l2.3,2.3l-2.3,2.3l-2.3,-2.3zM326.52,90.24l2.3,2.3l-2.3,2.3l-2.3,-2.3zM326.96,85.61l2.3,2.3l-2.3,2.3l-2.3,-2.3zM327.25,87.47l2.3,2.3l-2.3,2.3l-2.3,-2.3zM327.50,91.04l2.3,2.3l-2.3,2.3l-2.3,-2.3zM327.91,85.77l2.3,2.3l-2.3,2.3l-2.3,-2.3zM328.13,81.76l2.3,2.3l-2.3,2.3l-2.3,-2.3zM328.60,81.70l2.3,2.3l-2.3,2.3l-2.3,-2.3zM328.96,84.14l2.3,2.3l-2.3,2.3l-2.3,-2.3zM329.31,87.29l2.3,2.3l-2.3,2.3l-2.3,-2.3zM329.73,92.01l2.3,2.3l-2.3,2.3l-2.3,-2.3zM330.18,93.17l2.3,2.3l-2.3,2.3l-2.3,-2.3zM330.70,89.97l2.3,2.3l-2.3,2.3l-2.3,-2.3zM331.18,86.71l2.3,2.3l-2.3,2.3l-2.3,-2.3zM331.42,81.66l2.3,2.3l-2.3,2.3l-2.3,-2.3zM331.89,82.76l2.3,2.3l-2.3,2.3l-2.3,-2.3zM332.30,83.93l2.3,2.3l-2.3,2.3l-2.3,-2.3zM332.84,83.68l2.3,2.3l-2.3,2.3l-2.3,-2.3zM333.37,94.29l2.3,2.3l-2.3,2.3l-2.3,-2.3zM333.72,94.16l2.3,2.3l-2.3,2.3l-2.3,-2.3zM334.22,94.67l2.3,2.3l-2.3,2.3l-2.3,-2.3zM334.56,90.60l2.3,2.3l-2.3,2.3l-2.3,-2.3zM335.10,94.55l2.3,2.3l-2.3,2.3l-2.3,-2.3zM335.39,96.61l2.3,2.3l-2.3,2.3l-2.3,-2.3zM335.69,96.65l2.3,2.3l-2.3,2.3l-2.3,-2.3zM336.03,96.70l2.3,2.3l-2.3,2.3l-2.3,-2.3zM336.25,94.55l2.3,2.3l-2.3,2.3l-2.3,-2.3zM336.78,92.71l2.3,2.3l-2.3,2.3l-2.3,-2.3zM337.32,94.69l2.3,2.3l-2.3,2.3l-2.3,-2.3zM337.60,95.98l2.3,2.3l-2.3,2.3l-2.3,-2.3zM337.91,91.14l2.3,2.3l-2.3,2.3l-2.3,-2.3zM338.18,85.15l2.3,2.3l-2.3,2.3l-2.3,-2.3zM338.52,85.78l2.3,2.3l-2.3,2.3l-2.3,-2.3zM338.91,85.27l2.3,2.3l-2.3,2.3l-2.3,-2.3zM339.45,95.71l2.3,2.3l-2.3,2.3l-2.3,-2.3zM339.93,94.75l2.3,2.3l-2.3,2.3l-2.3,-2.3zM340.22,91.96l2.3,2.3l-2.3,2.3l-2.3,-2.3zM340.49,98.28l2.3,2.3l-2.3,2.3l-2.3,-2.3zM341.03,98.82l2.3,2.3l-2.3,2.3l-2.3,-2.3zM341.58,98.21l2.3,2.3l-2.3,2.3l-2.3,-2.3zM341.94,95.30l2.3,2.3l-2.3,2.3l-2.3,-2.3zM342.15,97.06l2.3,2.3l-2.3,2.3l-2.3,-2.3zM342.46,93.63l2.3,2.3l-2.3,2.3l-2.3,-2.3zM343.02,96.59l2.3,2.3l-2.3,2.3l-2.3,-2.3zM343.33,100.20l2.3,2.3l-2.3,2.3l-2.3,-2.3zM343.78,100.47l2.3,2.3l-2.3,2.3l-2.3,-2.3zM344.13,100.68l2.3,2.3l-2.3,2.3l-2.3,-2.3zM344.46,99.20l2.3,2.3l-2.3,2.3l-2.3,-2.3zM344.76,92.94l2.3,2.3l-2.3,2.3l-2.3,-2.3zM345.00,92.93l2.3,2.3l-2.3,2.3l-2.3,-2.3zM345.54,93.01l2.3,2.3l-2.3,2.3l-2.3,-2.3zM345.87,95.29l2.3,2.3l-2.3,2.3l-2.3,-2.3zM346.11,98.17l2.3,2.3l-2.3,2.3l-2.3,-2.3zM346.43,92.32l2.3,2.3l-2.3,2.3l-2.3,-2.3zM346.76,91.77l2.3,2.3l-2.3,2.3l-2.3,-2.3zM347.07,86.83l2.3,2.3l-2.3,2.3l-2.3,-2.3zM347.44,89.03l2.3,2.3l-2.3,2.3l-2.3,-2.3zM347.94,88.45l2.3,2.3l-2.3,2.3l-2.3,-2.3zM348.20,90.71l2.3,2.3l-2.3,2.3l-2.3,-2.3zM348.73,87.08l2.3,2.3l-2.3,2.3l-2.3,-2.3zM349.14,90.08l2.3,2.3l-2.3,2.3l-2.3,-2.3zM349.67,87.89l2.3,2.3l-2.3,2.3l-2.3,-2.3zM350.02,93.20l2.3,2.3l-2.3,2.3l-2.3,-2.3zM350.22,87.60l2.3,2.3l-2.3,2.3l-2.3,-2.3zM350.61,87.99l2.3,2.3l-2.3,2.3l-2.3,-2.3zM350.99,84.42l2.3,2.3l-2.3,2.3l-2.3,-2.3zM351.27,87.44l2.3,2.3l-2.3,2.3l-2.3,-2.3zM351.86,97.34l2.3,2.3l-2.3,2.3l-2.3,-2.3zM352.13,101.15l2.3,2.3l-2.3,2.3l-2.3,-2.3zM352.65,98.15l2.3,2.3l-2.3,2.3l-2.3,-2.3zM353.07,97.85l2.3,2.3l-2.3,2.3l-2.3,-2.3zM353.61,100.56l2.3,2.3l-2.3,2.3l-2.3,-2.3zM354.20,89.24l2.3,2.3l-2.3,2.3l-2.3,-2.3zM354.43,88.75l2.3,2.3l-2.3,2.3l-2.3,-2.3zM354.93,91.72l2.3,2.3l-2.3,2.3l-2.3,-2.3zM355.32,91.57l2.3,2.3l-2.3,2.3l-2.3,-2.3zM355.93,84.59l2.3,2.3l-2.3,2.3l-2.3,-2.3zM356.40,91.05l2.3,2.3l-2.3,2.3l-2.3,-2.3zM356.64,87.43l2.3,2.3l-2.3,2.3l-2.3,-2.3zM357.21,90.85l2.3,2.3l-2.3,2.3l-2.3,-2.3zM357.75,92.24l2.3,2.3l-2.3,2.3l-2.3,-2.3zM358.07,91.55l2.3,2.3l-2.3,2.3l-2.3,-2.3zM358.36,90.80l2.3,2.3l-2.3,2.3l-2.3,-2.3zM358.86,95.94l2.3,2.3l-2.3,2.3l-2.3,-2.3zM359.45,95.56l2.3,2.3l-2.3,2.3l-2.3,-2.3zM359.74,92.41l2.3,2.3l-2.3,2.3l-2.3,-2.3zM360.20,86.26l2.3,2.3l-2.3,2.3l-2.3,-2.3zM360.72,88.77l2.3,2.3l-2.3,2.3l-2.3,-2.3zM361.01,89.82l2.3,2.3l-2.3,2.3l-2.3,-2.3zM361.44,93.82l2.3,2.3l-2.3,2.3l-2.3,-2.3zM361.89,93.16l2.3,2.3l-2.3,2.3l-2.3,-2.3zM362.15,95.59l2.3,2.3l-2.3,2.3l-2.3,-2.3zM362.57,91.52l2.3,2.3l-2.3,2.3l-2.3,-2.3zM363.06,96.40l2.3,2.3l-2.3,2.3l-2.3,-2.3zM363.60,99.78l2.3,2.3l-2.3,2.3l-2.3,-2.3zM364.17,97.22l2.3,2.3l-2.3,2.3l-2.3,-2.3zM364.44,98.64l2.3,2.3l-2.3,2.3l-2.3,-2.3zM365.03,93.93l2.3,2.3l-2.3,2.3l-2.3,-2.3zM365.46,95.68l2.3,2.3l-2.3,2.3l-2.3,-2.3zM365.96,94.26l2.3,2.3l-2.3,2.3l-2.3,-2.3zM366.49,97.63l2.3,2.3l-2.3,2.3l-2.3,-2.3zM367.03,96.56l2.3,2.3l-2.3,2.3l-2.3,-2.3zM367.63,97.78l2.3,2.3l-2.3,2.3l-2.3,-2.3zM368.15,94.08l2.3,2.3l-2.3,2.3l-2.3,-2.3zM368.77,92.92l2.3,2.3l-2.3,2.3l-2.3,-2.3zM369.16,94.78l2.3,2.3l-2.3,2.3l-2.3,-2.3zM369.53,97.37l2.3,2.3l-2.3,2.3l-2.3,-2.3zM369.99,90.87l2.3,2.3l-2.3,2.3l-2.3,-2.3zM370.48,100.87l2.3,2.3l-2.3,2.3l-2.3,-2.3zM370.89,96.55l2.3,2.3l-2.3,2.3l-2.3,-2.3zM371.37,92.18l2.3,2.3l-2.3,2.3l-2.3,-2.3zM371.80,90.66l2.3,2.3l-2.3,2.3l-2.3,-2.3zM372.37,92.17l2.3,2.3l-2.3,2.3l-2.3,-2.3zM372.66,95.39l2.3,2.3l-2.3,2.3l-2.3,-2.3zM373.24,92.76l2.3,2.3l-2.3,2.3l-2.3,-2.3zM373.49,90.60l2.3,2.3l-2.3,2.3l-2.3,-2.3zM374.01,93.29l2.3,2.3l-2.3,2.3l-2.3,-2.3zM374.32,94.72l2.3,2.3l-2.3,2.3l-2.3,-2.3zM374.77,98.13l2.3,2.3l-2.3,2.3l-2.3,-2.3zM375.24,100.57l2.3,2.3l-2.3,2.3l-2.3,-2.3zM375.54,99.10l2.3,2.3l-2.3,2.3l-2.3,-2.3zM376.18,92.05l2.3,2.3l-2.3,2.3l-2.3,-2.3zM376.52,95.49l2.3,2.3l-2.3,2.3l-2.3,-2.3zM377.02,98.50l2.3,2.3l-2.3,2.3l-2.3,-2.3zM377.24,90.80l2.3,2.3l-2.3,2.3l-2.3,-2.3zM377.65,91.28l2.3,2.3l-2.3,2.3l-2.3,-2.3zM378.22,93.02l2.3,2.3l-2.3,2.3l-2.3,-2.3zM378.57,92.06l2.3,2.3l-2.3,2.3l-2.3,-2.3zM379.05,100.11l2.3,2.3l-2.3,2.3l-2.3,-2.3zM379.49,101.99l2.3,2.3l-2.3,2.3l-2.3,-2.3zM379.86,94.33l2.3,2.3l-2.3,2.3l-2.3,-2.3zM380.11,89.97l2.3,2.3l-2.3,2.3l-2.3,-2.3zM380.56,90.64l2.3,2.3l-2.3,2.3l-2.3,-2.3zM380.94,94.05l2.3,2.3l-2.3,2.3l-2.3,-2.3zM381.23,94.77l2.3,2.3l-2.3,2.3l-2.3,-2.3zM381.49,99.08l2.3,2.3l-2.3,2.3l-2.3,-2.3zM381.82,92.57l2.3,2.3l-2.3,2.3l-2.3,-2.3zM382.35,92.93l2.3,2.3l-2.3,2.3l-2.3,-2.3zM382.91,93.11l2.3,2.3l-2.3,2.3l-2.3,-2.3zM383.23,97.12l2.3,2.3l-2.3,2.3l-2.3,-2.3zM383.58,96.89l2.3,2.3l-2.3,2.3l-2.3,-2.3zM383.91,102.44l2.3,2.3l-2.3,2.3l-2.3,-2.3zM384.39,93.77l2.3,2.3l-2.3,2.3l-2.3,-2.3zM384.68,89.48l2.3,2.3l-2.3,2.3l-2.3,-2.3zM384.93,95.18l2.3,2.3l-2.3,2.3l-2.3,-2.3zM385.57,101.80l2.3,2.3l-2.3,2.3l-2.3,-2.3zM386.11,91.62l2.3,2.3l-2.3,2.3l-2.3,-2.3zM386.61,97.59l2.3,2.3l-2.3,2.3l-2.3,-2.3zM386.97,97.25l2.3,2.3l-2.3,2.3l-2.3,-2.3zM387.25,100.81l2.3,2.3l-2.3,2.3l-2.3,-2.3zM387.52,104.96l2.3,2.3l-2.3,2.3l-2.3,-2.3zM388.08,96.34l2.3,2.3l-2.3,2.3l-2.3,-2.3zM388.65,102.57l2.3,2.3l-2.3,2.3l-2.3,-2.3zM389.19,101.71l2.3,2.3l-2.3,2.3l-2.3,-2.3zM389.53,99.41l2.3,2.3l-2.3,2.3l-2.3,-2.3zM389.93,93.27l2.3,2.3l-2.3,2.3l-2.3,-2.3zM390.55,98.34l2.3,2.3l-2.3,2.3l-2.3,-2.3zM391.12,104.77l2.3,2.3l-2.3,2.3l-2.3,-2.3zM391.51,99.57l2.3,2.3l-2.3,2.3l-2.3,-2.3zM391.97,99.37l2.3,2.3l-2.3,2.3l-2.3,-2.3zM392.37,91.97l2.3,2.3l-2.3,2.3l-2.3,-2.3zM392.76,92.07l2.3,2.3l-2.3,2.3l-2.3,-2.3zM393.39,92.97l2.3,2.3l-2.3,2.3l-2.3,-2.3zM393.62,92.54l2.3,2.3l-2.3,2.3l-2.3,-2.3zM393.94,92.29l2.3,2.3l-2.3,2.3l-2.3,-2.3zM394.43,92.37l2.3,2.3l-2.3,2.3l-2.3,-2.3zM395.07,92.46l2.3,2.3l-2.3,2.3l-2.3,-2.3zM395.57,102.05l2.3,2.3l-2.3,2.3l-2.3,-2.3zM395.88,94.26l2.3,2.3l-2.3,2.3l-2.3,-2.3zM396.50,104.46l2.3,2.3l-2.3,2.3l-2.3,-2.3zM397.08,92.76l2.3,2.3l-2.3,2.3l-2.3,-2.3zM397.49,96.41l2.3,2.3l-2.3,2.3l-2.3,-2.3zM397.83,105.63l2.3,2.3l-2.3,2.3l-2.3,-2.3zM398.41,95.40l2.3,2.3l-2.3,2.3l-2.3,-2.3zM398.81,93.48l2.3,2.3l-2.3,2.3l-2.3,-2.3zM399.19,103.43l2.3,2.3l-2.3,2.3l-2.3,-2.3zM399.60,98.43l2.3,2.3l-2.3,2.3l-2.3,-2.3zM400.09,93.19l2.3,2.3l-2.3,2.3l-2.3,-2.3zM400.57,99.52l2.3,2.3l-2.3,2.3l-2.3,-2.3zM400.94,110.94l2.3,2.3l-2.3,2.3l-2.3,-2.3zM401.30,85.70l2.3,2.3l-2.3,2.3l-2.3,-2.3zM401.30,129.20l2.3,2.3l-2.3,2.3l-2.3,-2.3zM401.53,106.29l2.3,2.3l-2.3,2.3l-2.3,-2.3zM401.90,107.47l2.3,2.3l-2.3,2.3l-2.3,-2.3zM402.52,110.49l2.3,2.3l-2.3,2.3l-2.3,-2.3zM403.07,110.34l2.3,2.3l-2.3,2.3l-2.3,-2.3zM403.55,110.21l2.3,2.3l-2.3,2.3l-2.3,-2.3zM403.96,104.57l2.3,2.3l-2.3,2.3l-2.3,-2.3zM404.51,100.04l2.3,2.3l-2.3,2.3l-2.3,-2.3zM405.10,103.00l2.3,2.3l-2.3,2.3l-2.3,-2.3zM405.50,79.70l2.3,2.3l-2.3,2.3l-2.3,-2.3zM405.61,102.08l2.3,2.3l-2.3,2.3l-2.3,-2.3zM406.30,98.44l2.3,2.3l-2.3,2.3l-2.3,-2.3zM406.95,94.98l2.3,2.3l-2.3,2.3l-2.3,-2.3zM407.20,99.45l2.3,2.3l-2.3,2.3l-2.3,-2.3zM407.72,95.07l2.3,2.3l-2.3,2.3l-2.3,-2.3zM408.11,96.46l2.3,2.3l-2.3,2.3l-2.3,-2.3zM408.61,97.64l2.3,2.3l-2.3,2.3l-2.3,-2.3zM408.97,105.63l2.3,2.3l-2.3,2.3l-2.3,-2.3zM409.44,101.69l2.3,2.3l-2.3,2.3l-2.3,-2.3zM410.04,99.22l2.3,2.3l-2.3,2.3l-2.3,-2.3zM410.36,103.16l2.3,2.3l-2.3,2.3l-2.3,-2.3zM411.02,103.50l2.3,2.3l-2.3,2.3l-2.3,-2.3zM411.30,97.63l2.3,2.3l-2.3,2.3l-2.3,-2.3zM411.94,104.00l2.3,2.3l-2.3,2.3l-2.3,-2.3zM412.42,103.90l2.3,2.3l-2.3,2.3l-2.3,-2.3zM412.70,97.30l2.3,2.3l-2.3,2.3l-2.3,-2.3zM413.24,102.91l2.3,2.3l-2.3,2.3l-2.3,-2.3zM413.64,104.25l2.3,2.3l-2.3,2.3l-2.3,-2.3zM414.32,100.79l2.3,2.3l-2.3,2.3l-2.3,-2.3zM414.77,108.94l2.3,2.3l-2.3,2.3l-2.3,-2.3zM415.05,109.06l2.3,2.3l-2.3,2.3l-2.3,-2.3zM415.41,109.17l2.3,2.3l-2.3,2.3l-2.3,-2.3zM415.93,105.58l2.3,2.3l-2.3,2.3l-2.3,-2.3zM416.60,102.41l2.3,2.3l-2.3,2.3l-2.3,-2.3zM417.22,101.67l2.3,2.3l-2.3,2.3l-2.3,-2.3zM417.87,98.56l2.3,2.3l-2.3,2.3l-2.3,-2.3zM418.28,98.74l2.3,2.3l-2.3,2.3l-2.3,-2.3zM418.73,113.77l2.3,2.3l-2.3,2.3l-2.3,-2.3zM418.98,110.51l2.3,2.3l-2.3,2.3l-2.3,-2.3zM419.32,110.57l2.3,2.3l-2.3,2.3l-2.3,-2.3zM419.67,114.98l2.3,2.3l-2.3,2.3l-2.3,-2.3zM420.00,114.28l2.3,2.3l-2.3,2.3l-2.3,-2.3zM420.74,108.66l2.3,2.3l-2.3,2.3l-2.3,-2.3zM421.21,115.23l2.3,2.3l-2.3,2.3l-2.3,-2.3zM421.57,107.09l2.3,2.3l-2.3,2.3l-2.3,-2.3zM422.21,104.67l2.3,2.3l-2.3,2.3l-2.3,-2.3zM422.48,107.57l2.3,2.3l-2.3,2.3l-2.3,-2.3zM423.09,104.31l2.3,2.3l-2.3,2.3l-2.3,-2.3zM423.76,104.54l2.3,2.3l-2.3,2.3l-2.3,-2.3zM424.11,104.31l2.3,2.3l-2.3,2.3l-2.3,-2.3zM424.54,106.49l2.3,2.3l-2.3,2.3l-2.3,-2.3zM425.24,104.84l2.3,2.3l-2.3,2.3l-2.3,-2.3zM425.61,106.08l2.3,2.3l-2.3,2.3l-2.3,-2.3zM426.19,105.28l2.3,2.3l-2.3,2.3l-2.3,-2.3zM426.47,114.70l2.3,2.3l-2.3,2.3l-2.3,-2.3zM427.17,106.41l2.3,2.3l-2.3,2.3l-2.3,-2.3zM427.60,101.43l2.3,2.3l-2.3,2.3l-2.3,-2.3zM427.89,106.74l2.3,2.3l-2.3,2.3l-2.3,-2.3zM428.16,112.43l2.3,2.3l-2.3,2.3l-2.3,-2.3zM428.47,112.31l2.3,2.3l-2.3,2.3l-2.3,-2.3zM429.16,101.57l2.3,2.3l-2.3,2.3l-2.3,-2.3zM429.84,100.24l2.3,2.3l-2.3,2.3l-2.3,-2.3zM430.46,99.74l2.3,2.3l-2.3,2.3l-2.3,-2.3zM431.00,99.33l2.3,2.3l-2.3,2.3l-2.3,-2.3zM431.30,102.83l2.3,2.3l-2.3,2.3l-2.3,-2.3zM431.69,101.81l2.3,2.3l-2.3,2.3l-2.3,-2.3zM432.45,104.32l2.3,2.3l-2.3,2.3l-2.3,-2.3zM433.00,117.20l2.3,2.3l-2.3,2.3l-2.3,-2.3zM433.00,104.49l2.3,2.3l-2.3,2.3l-2.3,-2.3zM433.38,96.82l2.3,2.3l-2.3,2.3l-2.3,-2.3zM434.09,102.52l2.3,2.3l-2.3,2.3l-2.3,-2.3zM434.42,102.74l2.3,2.3l-2.3,2.3l-2.3,-2.3zM435.09,113.82l2.3,2.3l-2.3,2.3l-2.3,-2.3zM435.56,102.85l2.3,2.3l-2.3,2.3l-2.3,-2.3zM436.14,107.72l2.3,2.3l-2.3,2.3l-2.3,-2.3zM436.62,109.86l2.3,2.3l-2.3,2.3l-2.3,-2.3zM437.27,115.30l2.3,2.3l-2.3,2.3l-2.3,-2.3zM437.54,114.94l2.3,2.3l-2.3,2.3l-2.3,-2.3zM438.31,113.96l2.3,2.3l-2.3,2.3l-2.3,-2.3zM439.01,113.07l2.3,2.3l-2.3,2.3l-2.3,-2.3zM439.77,105.57l2.3,2.3l-2.3,2.3l-2.3,-2.3zM440.19,106.49l2.3,2.3l-2.3,2.3l-2.3,-2.3zM440.89,112.57l2.3,2.3l-2.3,2.3l-2.3,-2.3zM441.47,113.06l2.3,2.3l-2.3,2.3l-2.3,-2.3zM441.77,113.32l2.3,2.3l-2.3,2.3l-2.3,-2.3zM442.07,110.74l2.3,2.3l-2.3,2.3l-2.3,-2.3zM442.47,112.94l2.3,2.3l-2.3,2.3l-2.3,-2.3zM443.11,111.25l2.3,2.3l-2.3,2.3l-2.3,-2.3zM443.90,102.65l2.3,2.3l-2.3,2.3l-2.3,-2.3zM444.61,98.04l2.3,2.3l-2.3,2.3l-2.3,-2.3zM445.26,98.51l2.3,2.3l-2.3,2.3l-2.3,-2.3zM445.61,104.95l2.3,2.3l-2.3,2.3l-2.3,-2.3zM446.17,108.97l2.3,2.3l-2.3,2.3l-2.3,-2.3zM446.61,116.45l2.3,2.3l-2.3,2.3l-2.3,-2.3zM447.19,107.52l2.3,2.3l-2.3,2.3l-2.3,-2.3zM447.54,106.72l2.3,2.3l-2.3,2.3l-2.3,-2.3zM447.95,107.13l2.3,2.3l-2.3,2.3l-2.3,-2.3zM448.58,106.32l2.3,2.3l-2.3,2.3l-2.3,-2.3zM449.37,105.18l2.3,2.3l-2.3,2.3l-2.3,-2.3zM449.97,112.00l2.3,2.3l-2.3,2.3l-2.3,-2.3zM450.75,106.81l2.3,2.3l-2.3,2.3l-2.3,-2.3zM451.40,108.42l2.3,2.3l-2.3,2.3l-2.3,-2.3zM451.77,107.37l2.3,2.3l-2.3,2.3l-2.3,-2.3zM452.30,108.51l2.3,2.3l-2.3,2.3l-2.3,-2.3zM452.93,115.37l2.3,2.3l-2.3,2.3l-2.3,-2.3zM453.65,111.90l2.3,2.3l-2.3,2.3l-2.3,-2.3zM454.00,111.54l2.3,2.3l-2.3,2.3l-2.3,-2.3zM454.79,109.36l2.3,2.3l-2.3,2.3l-2.3,-2.3zM455.07,115.00l2.3,2.3l-2.3,2.3l-2.3,-2.3zM455.54,119.66l2.3,2.3l-2.3,2.3l-2.3,-2.3zM456.21,117.33l2.3,2.3l-2.3,2.3l-2.3,-2.3zM456.73,115.25l2.3,2.3l-2.3,2.3l-2.3,-2.3zM457.31,119.66l2.3,2.3l-2.3,2.3l-2.3,-2.3zM458.02,118.48l2.3,2.3l-2.3,2.3l-2.3,-2.3zM458.47,117.11l2.3,2.3l-2.3,2.3l-2.3,-2.3zM459.16,113.48l2.3,2.3l-2.3,2.3l-2.3,-2.3zM459.93,122.95l2.3,2.3l-2.3,2.3l-2.3,-2.3zM460.54,123.32l2.3,2.3l-2.3,2.3l-2.3,-2.3zM460.97,120.79l2.3,2.3l-2.3,2.3l-2.3,-2.3zM461.38,119.93l2.3,2.3l-2.3,2.3l-2.3,-2.3zM461.80,147.80l2.3,2.3l-2.3,2.3l-2.3,-2.3zM462.12,117.40l2.3,2.3l-2.3,2.3l-2.3,-2.3zM462.49,112.35l2.3,2.3l-2.3,2.3l-2.3,-2.3zM462.84,112.25l2.3,2.3l-2.3,2.3l-2.3,-2.3zM463.51,116.03l2.3,2.3l-2.3,2.3l-2.3,-2.3zM463.96,116.15l2.3,2.3l-2.3,2.3l-2.3,-2.3zM464.41,112.07l2.3,2.3l-2.3,2.3l-2.3,-2.3zM465.13,117.84l2.3,2.3l-2.3,2.3l-2.3,-2.3zM465.52,118.80l2.3,2.3l-2.3,2.3l-2.3,-2.3zM465.83,113.09l2.3,2.3l-2.3,2.3l-2.3,-2.3zM466.46,113.51l2.3,2.3l-2.3,2.3l-2.3,-2.3zM466.95,118.39l2.3,2.3l-2.3,2.3l-2.3,-2.3zM467.32,113.21l2.3,2.3l-2.3,2.3l-2.3,-2.3zM467.61,115.96l2.3,2.3l-2.3,2.3l-2.3,-2.3zM467.95,113.02l2.3,2.3l-2.3,2.3l-2.3,-2.3zM468.34,111.13l2.3,2.3l-2.3,2.3l-2.3,-2.3zM468.84,108.14l2.3,2.3l-2.3,2.3l-2.3,-2.3zM469.51,104.71l2.3,2.3l-2.3,2.3l-2.3,-2.3zM470.33,109.84l2.3,2.3l-2.3,2.3l-2.3,-2.3zM471.07,106.86l2.3,2.3l-2.3,2.3l-2.3,-2.3zM471.54,105.00l2.3,2.3l-2.3,2.3l-2.3,-2.3zM472.19,105.21l2.3,2.3l-2.3,2.3l-2.3,-2.3zM472.76,105.94l2.3,2.3l-2.3,2.3l-2.3,-2.3zM473.48,109.58l2.3,2.3l-2.3,2.3l-2.3,-2.3zM474.34,116.56l2.3,2.3l-2.3,2.3l-2.3,-2.3zM474.65,115.46l2.3,2.3l-2.3,2.3l-2.3,-2.3zM474.98,119.18l2.3,2.3l-2.3,2.3l-2.3,-2.3zM475.75,120.47l2.3,2.3l-2.3,2.3l-2.3,-2.3zM476.40,118.97l2.3,2.3l-2.3,2.3l-2.3,-2.3zM476.70,120.04l2.3,2.3l-2.3,2.3l-2.3,-2.3zM477.53,118.14l2.3,2.3l-2.3,2.3l-2.3,-2.3zM478.34,121.75l2.3,2.3l-2.3,2.3l-2.3,-2.3zM478.72,124.02l2.3,2.3l-2.3,2.3l-2.3,-2.3zM479.46,124.90l2.3,2.3l-2.3,2.3l-2.3,-2.3zM479.82,124.99l2.3,2.3l-2.3,2.3l-2.3,-2.3zM480.62,124.57l2.3,2.3l-2.3,2.3l-2.3,-2.3zM481.17,126.85l2.3,2.3l-2.3,2.3l-2.3,-2.3zM481.79,119.08l2.3,2.3l-2.3,2.3l-2.3,-2.3zM482.29,124.90l2.3,2.3l-2.3,2.3l-2.3,-2.3zM482.50,136.00l2.3,2.3l-2.3,2.3l-2.3,-2.3zM482.86,126.07l2.3,2.3l-2.3,2.3l-2.3,-2.3zM483.26,123.37l2.3,2.3l-2.3,2.3l-2.3,-2.3zM484.05,120.91l2.3,2.3l-2.3,2.3l-2.3,-2.3zM484.84,128.89l2.3,2.3l-2.3,2.3l-2.3,-2.3zM485.35,126.22l2.3,2.3l-2.3,2.3l-2.3,-2.3zM486.17,126.64l2.3,2.3l-2.3,2.3l-2.3,-2.3zM486.73,124.29l2.3,2.3l-2.3,2.3l-2.3,-2.3zM487.17,125.87l2.3,2.3l-2.3,2.3l-2.3,-2.3zM487.99,127.95l2.3,2.3l-2.3,2.3l-2.3,-2.3zM488.00,140.90l2.3,2.3l-2.3,2.3l-2.3,-2.3zM488.66,129.29l2.3,2.3l-2.3,2.3l-2.3,-2.3zM489.27,123.32l2.3,2.3l-2.3,2.3l-2.3,-2.3zM489.69,123.19l2.3,2.3l-2.3,2.3l-2.3,-2.3zM490.48,127.41l2.3,2.3l-2.3,2.3l-2.3,-2.3zM490.94,123.51l2.3,2.3l-2.3,2.3l-2.3,-2.3zM491.79,125.30l2.3,2.3l-2.3,2.3l-2.3,-2.3zM492.47,128.10l2.3,2.3l-2.3,2.3l-2.3,-2.3zM493.28,126.27l2.3,2.3l-2.3,2.3l-2.3,-2.3zM494.17,126.40l2.3,2.3l-2.3,2.3l-2.3,-2.3zM494.57,121.23l2.3,2.3l-2.3,2.3l-2.3,-2.3zM495.36,133.99l2.3,2.3l-2.3,2.3l-2.3,-2.3zM496.13,135.12l2.3,2.3l-2.3,2.3l-2.3,-2.3zM496.68,135.27l2.3,2.3l-2.3,2.3l-2.3,-2.3zM496.99,135.36l2.3,2.3l-2.3,2.3l-2.3,-2.3zM497.32,124.96l2.3,2.3l-2.3,2.3l-2.3,-2.3zM497.91,129.68l2.3,2.3l-2.3,2.3l-2.3,-2.3zM498.40,127.63l2.3,2.3l-2.3,2.3l-2.3,-2.3zM499.19,123.36l2.3,2.3l-2.3,2.3l-2.3,-2.3zM500.02,126.60l2.3,2.3l-2.3,2.3l-2.3,-2.3zM500.86,126.41l2.3,2.3l-2.3,2.3l-2.3,-2.3zM501.59,123.99l2.3,2.3l-2.3,2.3l-2.3,-2.3zM501.60,149.60l2.3,2.3l-2.3,2.3l-2.3,-2.3zM502.26,120.31l2.3,2.3l-2.3,2.3l-2.3,-2.3zM502.76,122.81l2.3,2.3l-2.3,2.3l-2.3,-2.3zM503.20,129.02l2.3,2.3l-2.3,2.3l-2.3,-2.3zM503.57,125.48l2.3,2.3l-2.3,2.3l-2.3,-2.3zM504.00,155.70l2.3,2.3l-2.3,2.3l-2.3,-2.3zM504.49,116.96l2.3,2.3l-2.3,2.3l-2.3,-2.3zM505.02,119.35l2.3,2.3l-2.3,2.3l-2.3,-2.3zM505.42,115.73l2.3,2.3l-2.3,2.3l-2.3,-2.3zM505.91,130.74l2.3,2.3l-2.3,2.3l-2.3,-2.3zM506.79,123.41l2.3,2.3l-2.3,2.3l-2.3,-2.3zM507.00,99.00l2.3,2.3l-2.3,2.3l-2.3,-2.3zM507.22,137.20l2.3,2.3l-2.3,2.3l-2.3,-2.3zM507.81,136.15l2.3,2.3l-2.3,2.3l-2.3,-2.3zM508.45,134.70l2.3,2.3l-2.3,2.3l-2.3,-2.3zM509.00,125.11l2.3,2.3l-2.3,2.3l-2.3,-2.3zM509.51,123.17l2.3,2.3l-2.3,2.3l-2.3,-2.3zM510.03,125.93l2.3,2.3l-2.3,2.3l-2.3,-2.3zM510.61,122.88l2.3,2.3l-2.3,2.3l-2.3,-2.3zM511.46,117.12l2.3,2.3l-2.3,2.3l-2.3,-2.3zM512.20,137.10l2.3,2.3l-2.3,2.3l-2.3,-2.3zM512.41,116.49l2.3,2.3l-2.3,2.3l-2.3,-2.3zM512.80,120.13l2.3,2.3l-2.3,2.3l-2.3,-2.3zM513.40,122.42l2.3,2.3l-2.3,2.3l-2.3,-2.3zM514.27,121.02l2.3,2.3l-2.3,2.3l-2.3,-2.3zM515.09,128.79l2.3,2.3l-2.3,2.3l-2.3,-2.3zM515.46,137.39l2.3,2.3l-2.3,2.3l-2.3,-2.3zM515.84,134.47l2.3,2.3l-2.3,2.3l-2.3,-2.3zM516.40,104.40l2.3,2.3l-2.3,2.3l-2.3,-2.3zM516.50,137.61l2.3,2.3l-2.3,2.3l-2.3,-2.3zM517.37,138.15l2.3,2.3l-2.3,2.3l-2.3,-2.3zM517.98,132.74l2.3,2.3l-2.3,2.3l-2.3,-2.3zM518.76,138.70l2.3,2.3l-2.3,2.3l-2.3,-2.3zM519.11,135.38l2.3,2.3l-2.3,2.3l-2.3,-2.3zM519.76,139.11l2.3,2.3l-2.3,2.3l-2.3,-2.3zM519.80,104.40l2.3,2.3l-2.3,2.3l-2.3,-2.3zM520.27,129.70l2.3,2.3l-2.3,2.3l-2.3,-2.3zM521.18,121.69l2.3,2.3l-2.3,2.3l-2.3,-2.3zM521.73,123.69l2.3,2.3l-2.3,2.3l-2.3,-2.3zM522.14,127.99l2.3,2.3l-2.3,2.3l-2.3,-2.3zM522.60,134.14l2.3,2.3l-2.3,2.3l-2.3,-2.3zM523.22,124.25l2.3,2.3l-2.3,2.3l-2.3,-2.3zM524.17,140.62l2.3,2.3l-2.3,2.3l-2.3,-2.3zM524.40,142.10l2.3,2.3l-2.3,2.3l-2.3,-2.3zM524.65,131.62l2.3,2.3l-2.3,2.3l-2.3,-2.3zM525.20,122.53l2.3,2.3l-2.3,2.3l-2.3,-2.3zM525.60,109.50l2.3,2.3l-2.3,2.3l-2.3,-2.3zM525.75,124.11l2.3,2.3l-2.3,2.3l-2.3,-2.3zM526.22,126.18l2.3,2.3l-2.3,2.3l-2.3,-2.3zM526.94,141.54l2.3,2.3l-2.3,2.3l-2.3,-2.3zM527.57,124.11l2.3,2.3l-2.3,2.3l-2.3,-2.3zM528.10,114.50l2.3,2.3l-2.3,2.3l-2.3,-2.3zM528.35,127.98l2.3,2.3l-2.3,2.3l-2.3,-2.3zM528.69,133.39l2.3,2.3l-2.3,2.3l-2.3,-2.3zM529.25,123.65l2.3,2.3l-2.3,2.3l-2.3,-2.3zM530.22,126.29l2.3,2.3l-2.3,2.3l-2.3,-2.3zM530.30,146.30l2.3,2.3l-2.3,2.3l-2.3,-2.3zM530.56,119.62l2.3,2.3l-2.3,2.3l-2.3,-2.3zM531.19,115.95l2.3,2.3l-2.3,2.3l-2.3,-2.3zM531.58,124.10l2.3,2.3l-2.3,2.3l-2.3,-2.3zM532.30,125.68l2.3,2.3l-2.3,2.3l-2.3,-2.3zM532.80,115.30l2.3,2.3l-2.3,2.3l-2.3,-2.3zM532.99,140.82l2.3,2.3l-2.3,2.3l-2.3,-2.3zM533.51,140.17l2.3,2.3l-2.3,2.3l-2.3,-2.3zM533.91,127.94l2.3,2.3l-2.3,2.3l-2.3,-2.3zM534.43,136.50l2.3,2.3l-2.3,2.3l-2.3,-2.3zM534.80,140.40l2.3,2.3l-2.3,2.3l-2.3,-2.3zM535.37,136.71l2.3,2.3l-2.3,2.3l-2.3,-2.3zM536.34,132.04l2.3,2.3l-2.3,2.3l-2.3,-2.3zM536.84,128.00l2.3,2.3l-2.3,2.3l-2.3,-2.3zM536.90,179.60l2.3,2.3l-2.3,2.3l-2.3,-2.3zM537.31,121.47l2.3,2.3l-2.3,2.3l-2.3,-2.3zM537.66,134.04l2.3,2.3l-2.3,2.3l-2.3,-2.3zM538.20,150.50l2.3,2.3l-2.3,2.3l-2.3,-2.3zM538.33,122.89l2.3,2.3l-2.3,2.3l-2.3,-2.3zM539.00,122.90l2.3,2.3l-2.3,2.3l-2.3,-2.3zM539.23,132.86l2.3,2.3l-2.3,2.3l-2.3,-2.3zM539.83,128.18l2.3,2.3l-2.3,2.3l-2.3,-2.3zM540.48,126.35l2.3,2.3l-2.3,2.3l-2.3,-2.3zM540.60,164.10l2.3,2.3l-2.3,2.3l-2.3,-2.3zM541.00,125.70l2.3,2.3l-2.3,2.3l-2.3,-2.3zM541.80,157.70l2.3,2.3l-2.3,2.3l-2.3,-2.3zM542.50,121.70l2.3,2.3l-2.3,2.3l-2.3,-2.3zM543.30,142.70l2.3,2.3l-2.3,2.3l-2.3,-2.3zM544.00,119.70l2.3,2.3l-2.3,2.3l-2.3,-2.3zM544.80,147.70l2.3,2.3l-2.3,2.3l-2.3,-2.3zM545.80,224.90l2.3,2.3l-2.3,2.3l-2.3,-2.3zM546.50,122.70l2.3,2.3l-2.3,2.3l-2.3,-2.3zM547.20,142.70l2.3,2.3l-2.3,2.3l-2.3,-2.3zM548.00,109.70l2.3,2.3l-2.3,2.3l-2.3,-2.3zM548.60,122.70l2.3,2.3l-2.3,2.3l-2.3,-2.3zM549.20,102.70l2.3,2.3l-2.3,2.3l-2.3,-2.3zM549.80,115.70l2.3,2.3l-2.3,2.3l-2.3,-2.3zM550.70,75.40l2.3,2.3l-2.3,2.3l-2.3,-2.3zM551.30,109.70l2.3,2.3l-2.3,2.3l-2.3,-2.3zM551.90,89.70l2.3,2.3l-2.3,2.3l-2.3,-2.3zM552.50,107.70l2.3,2.3l-2.3,2.3l-2.3,-2.3zM553.10,93.70l2.3,2.3l-2.3,2.3l-2.3,-2.3zM553.70,109.70l2.3,2.3l-2.3,2.3l-2.3,-2.3zM554.30,74.50l2.3,2.3l-2.3,2.3l-2.3,-2.3zM554.90,97.70l2.3,2.3l-2.3,2.3l-2.3,-2.3zM555.50,112.70l2.3,2.3l-2.3,2.3l-2.3,-2.3zM556.10,97.70l2.3,2.3l-2.3,2.3l-2.3,-2.3zM556.80,115.70l2.3,2.3l-2.3,2.3l-2.3,-2.3zM557.50,122.70l2.3,2.3l-2.3,2.3l-2.3,-2.3zM558.20,111.70l2.3,2.3l-2.3,2.3l-2.3,-2.3zM558.90,123.70l2.3,2.3l-2.3,2.3l-2.3,-2.3zM559.60,113.70l2.3,2.3l-2.3,2.3l-2.3,-2.3zM560.30,124.70l2.3,2.3l-2.3,2.3l-2.3,-2.3zM561.00,113.70l2.3,2.3l-2.3,2.3l-2.3,-2.3zM561.70,127.70l2.3,2.3l-2.3,2.3l-2.3,-2.3zM562.40,107.70l2.3,2.3l-2.3,2.3l-2.3,-2.3zM563.20,83.50l2.3,2.3l-2.3,2.3l-2.3,-2.3zM563.80,125.70l2.3,2.3l-2.3,2.3l-2.3,-2.3zM564.50,97.70l2.3,2.3l-2.3,2.3l-2.3,-2.3zM565.20,129.70l2.3,2.3l-2.3,2.3l-2.3,-2.3zM566.00,112.70l2.3,2.3l-2.3,2.3l-2.3,-2.3zM566.70,148.70l2.3,2.3l-2.3,2.3l-2.3,-2.3zM567.40,117.70l2.3,2.3l-2.3,2.3l-2.3,-2.3zM568.10,129.70l2.3,2.3l-2.3,2.3l-2.3,-2.3zM569.10,103.70l2.3,2.3l-2.3,2.3l-2.3,-2.3zM569.80,125.70l2.3,2.3l-2.3,2.3l-2.3,-2.3zM570.50,166.20l2.3,2.3l-2.3,2.3l-2.3,-2.3zM571.20,119.70l2.3,2.3l-2.3,2.3l-2.3,-2.3zM571.70,212.00l2.3,2.3l-2.3,2.3l-2.3,-2.3zM572.30,125.70l2.3,2.3l-2.3,2.3l-2.3,-2.3zM573.00,132.70l2.3,2.3l-2.3,2.3l-2.3,-2.3zM573.60,124.50l2.3,2.3l-2.3,2.3l-2.3,-2.3zM574.30,137.70l2.3,2.3l-2.3,2.3l-2.3,-2.3zM575.00,122.70l2.3,2.3l-2.3,2.3l-2.3,-2.3zM575.60,132.70l2.3,2.3l-2.3,2.3l-2.3,-2.3zM576.30,116.70l2.3,2.3l-2.3,2.3l-2.3,-2.3zM576.80,203.90l2.3,2.3l-2.3,2.3l-2.3,-2.3zM577.50,125.70l2.3,2.3l-2.3,2.3l-2.3,-2.3zM578.20,133.70l2.3,2.3l-2.3,2.3l-2.3,-2.3zM578.80,113.70l2.3,2.3l-2.3,2.3l-2.3,-2.3zM579.50,132.70l2.3,2.3l-2.3,2.3l-2.3,-2.3zM580.20,123.70l2.3,2.3l-2.3,2.3l-2.3,-2.3zM580.80,204.70l2.3,2.3l-2.3,2.3l-2.3,-2.3zM581.50,127.70l2.3,2.3l-2.3,2.3l-2.3,-2.3zM582.20,103.60l2.3,2.3l-2.3,2.3l-2.3,-2.3zM582.60,188.50l2.3,2.3l-2.3,2.3l-2.3,-2.3zM583.30,127.70l2.3,2.3l-2.3,2.3l-2.3,-2.3zM584.00,115.70l2.3,2.3l-2.3,2.3l-2.3,-2.3zM585.00,320.20l2.3,2.3l-2.3,2.3l-2.3,-2.3zM585.70,132.70l2.3,2.3l-2.3,2.3l-2.3,-2.3zM586.30,110.30l2.3,2.3l-2.3,2.3l-2.3,-2.3zM586.80,289.20l2.3,2.3l-2.3,2.3l-2.3,-2.3zM587.30,239.10l2.3,2.3l-2.3,2.3l-2.3,-2.3zM587.80,128.70l2.3,2.3l-2.3,2.3l-2.3,-2.3zM588.30,201.20l2.3,2.3l-2.3,2.3l-2.3,-2.3zM588.90,216.50l2.3,2.3l-2.3,2.3l-2.3,-2.3z" stroke="#000" stroke-width="0.9"/>
</g>
<rect x="0" y="323.5" width="600" height="70" fill="#fff"/>
<path d="M75.00,323 v-6.5 M75.00,2 v6.5 M91.34,323 v-3.5 M91.34,2 v3.5 M107.69,323 v-3.5 M107.69,2 v3.5 M124.03,323 v-3.5 M124.03,2 v3.5 M140.38,323 v-3.5 M140.38,2 v3.5 M156.72,323 v-6.5 M156.72,2 v6.5 M173.06,323 v-3.5 M173.06,2 v3.5 M189.41,323 v-3.5 M189.41,2 v3.5 M205.75,323 v-3.5 M205.75,2 v3.5 M222.09,323 v-3.5 M222.09,2 v3.5 M238.44,323 v-6.5 M238.44,2 v6.5 M254.78,323 v-3.5 M254.78,2 v3.5 M271.12,323 v-3.5 M271.12,2 v3.5 M287.47,323 v-3.5 M287.47,2 v3.5 M303.81,323 v-3.5 M303.81,2 v3.5 M320.16,323 v-6.5 M320.16,2 v6.5 M336.50,323 v-3.5 M336.50,2 v3.5 M352.84,323 v-3.5 M352.84,2 v3.5 M369.19,323 v-3.5 M369.19,2 v3.5 M385.53,323 v-3.5 M385.53,2 v3.5 M401.88,323 v-6.5 M401.88,2 v6.5 M418.22,323 v-3.5 M418.22,2 v3.5 M434.56,323 v-3.5 M434.56,2 v3.5 M450.91,323 v-3.5 M450.91,2 v3.5 M467.25,323 v-3.5 M467.25,2 v3.5 M483.59,323 v-6.5 M483.59,2 v6.5 M499.94,323 v-3.5 M499.94,2 v3.5 M516.28,323 v-3.5 M516.28,2 v3.5 M532.62,323 v-3.5 M532.62,2 v3.5 M548.97,323 v-3.5 M548.97,2 v3.5 M565.31,323 v-6.5 M565.31,2 v6.5 M581.66,323 v-3.5 M581.66,2 v3.5 M598.00,323 v-3.5 M598.00,2 v3.5 M75,323.00 h10.5 M598,323.00 h-10.5 M75,248.74 h5.5 M598,248.74 h-5.5 M75,205.29 h5.5 M598,205.29 h-5.5 M75,174.47 h5.5 M598,174.47 h-5.5 M75,150.56 h5.5 M598,150.56 h-5.5 M75,131.03 h5.5 M598,131.03 h-5.5 M75,114.51 h5.5 M598,114.51 h-5.5 M75,100.21 h5.5 M598,100.21 h-5.5 M75,87.59 h5.5 M598,87.59 h-5.5 M75,76.30 h10.5 M598,76.30 h-10.5 M75,2.04 h5.5 M598,2.04 h-5.5" stroke="#333" stroke-width="1.2" fill="none"/>
<rect x="74" y="1" width="525" height="323" fill="none" stroke="#999" stroke-width="0"/>
<rect x="74" y="1" width="2" height="323" fill="#9a9a9a"/>
<rect x="597" y="1" width="2" height="323" fill="#9a9a9a"/>
<rect x="74" y="1" width="525" height="2" fill="#9a9a9a"/>
<rect x="74" y="322" width="525" height="2" fill="#9a9a9a"/>
<g font-family="Liberation Sans" fill="#000" stroke="#fff" stroke-width="0.3">
<text x="67.42" y="354.50" font-size="20.8px" textLength="13.58" lengthAdjust="spacingAndGlyphs">5</text><text x="144.35" y="354.50" font-size="20.8px" textLength="24.47" lengthAdjust="spacingAndGlyphs">10</text><text x="224.10" y="354.50" font-size="20.8px" textLength="28.17" lengthAdjust="spacingAndGlyphs">15</text><text x="305.99" y="354.50" font-size="20.8px" textLength="26.91" lengthAdjust="spacingAndGlyphs">20</text><text x="386.73" y="354.50" font-size="20.8px" textLength="28.35" lengthAdjust="spacingAndGlyphs">25</text><text x="469.54" y="354.50" font-size="20.8px" textLength="26.76" lengthAdjust="spacingAndGlyphs">30</text><text x="552.31" y="354.50" font-size="20.8px" textLength="24.73" lengthAdjust="spacingAndGlyphs">35</text><text x="36.62" y="84.80" font-size="20.8px" textLength="31.17" lengthAdjust="spacingAndGlyphs">1.0</text><text x="35.98" y="323.60" font-size="21.4px" textLength="28.44" lengthAdjust="spacingAndGlyphs">0.1</text><text x="250.90" y="381.70" font-size="20.3px" textLength="108.73" lengthAdjust="spacingAndGlyphs">Wavelength</text><text x="371.83" y="381.70" font-size="20.3px" textLength="50.77" lengthAdjust="spacingAndGlyphs">(µm)</text><text transform="rotate(-90)" x="-207.27" y="18.6" font-size="20.4px" textLength="39.36" lengthAdjust="spacingAndGlyphs">Flux</text><text transform="rotate(-90)" x="-156.55" y="18.6" font-size="20.4px" textLength="37.53" lengthAdjust="spacingAndGlyphs">(Jy)</text>
</g>
<g font-family="Liberation Sans" fill="#000" stroke="#000" stroke-width="0.25">
<text x="418.07" y="19.70" font-size="14px" textLength="34.08" lengthAdjust="spacingAndGlyphs">245K</text><text x="459.85" y="19.70" font-size="14px" textLength="66.13" lengthAdjust="spacingAndGlyphs">Blackbody</text><text x="417.91" y="48.00" font-size="14px" textLength="41.90" lengthAdjust="spacingAndGlyphs">Glassy</text><text x="467.37" y="48.00" font-size="14px" textLength="33.63" lengthAdjust="spacingAndGlyphs">Silica</text><text x="509.09" y="48.00" font-size="14px" textLength="66.54" lengthAdjust="spacingAndGlyphs">(obsidian)</text>
</g>
<path d="M336,18.7 H402.4" stroke="#333" stroke-width="1.1"/>
<path d="M336,48 H399" stroke="#333" stroke-width="1.1" stroke-dasharray="4.7 4.8"/>
</svg>
</body></html>
